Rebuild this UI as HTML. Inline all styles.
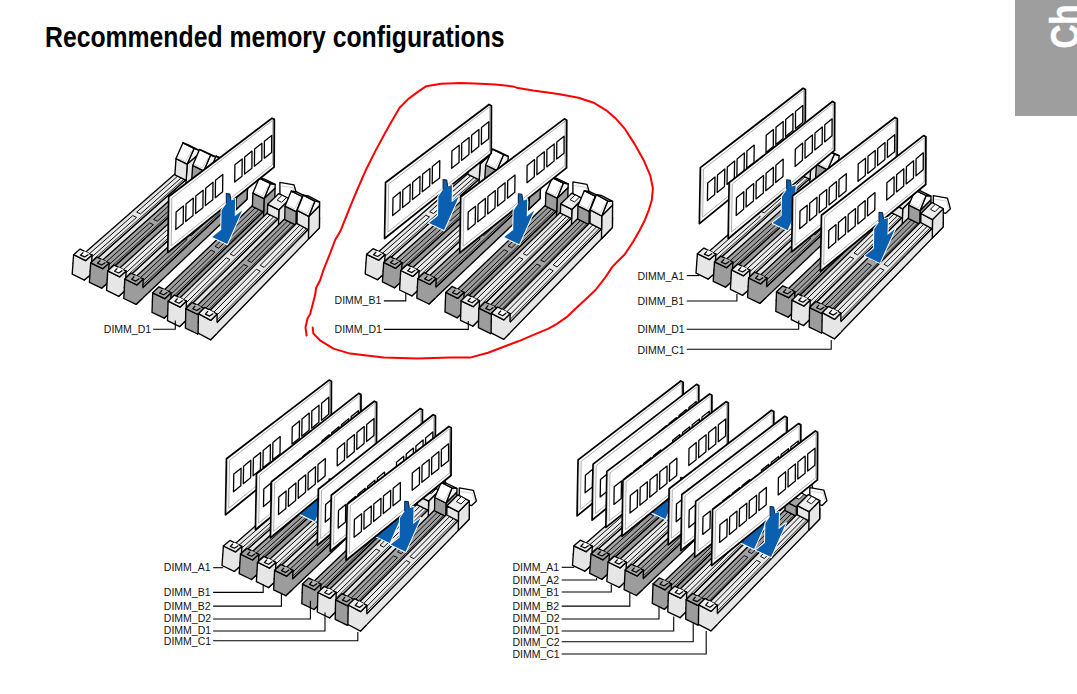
<!DOCTYPE html>
<html><head><meta charset="utf-8"><style>
html,body{margin:0;padding:0;background:#fff;width:1077px;height:694px;overflow:hidden;}
#title{position:absolute;left:44.8px;top:21.0px;font-family:"Liberation Sans",sans-serif;font-weight:bold;font-size:28.8px;white-space:nowrap;transform-origin:0 0;transform:scaleX(0.86);color:#000;}
#tab{position:absolute;left:1015px;top:0;width:62px;height:116px;background:#9e9e9e;overflow:hidden;}
svg{position:absolute;left:0;top:0;}
</style></head><body>
<div id="title">Recommended memory configurations</div>
<div id="tab"></div>
<svg width="1077" height="694" viewBox="0 0 1077 694"><text transform="translate(1078.5,48.6) rotate(-90) scale(0.83,1)" font-family="Liberation Sans, sans-serif" font-weight="bold" font-size="40" fill="#ffffff" stroke="#ffffff" stroke-width="0.5">Ch</text><g transform="translate(0.0,0.0)"><polygon points="84.4,280.1 196.8,179.5 197.5,169.3 85.1,269.1" fill="#e6e6e6" stroke="#000" stroke-width="1.35" stroke-linejoin="round"/><polygon points="73.0,263.2 85.1,269.1 197.5,169.3 186.3,163.9" fill="#e6e6e6" stroke="#000" stroke-width="1.35" stroke-linejoin="round"/><polyline points="89.8,262.6 184.6,178.6" fill="none" stroke="#000" stroke-width="0.76" stroke-linejoin="round"/><polygon points="84.8,257.8 88.6,259.7 136.5,217.4 132.8,215.6" fill="#ececec" stroke="#000" stroke-width="0.95" stroke-linejoin="round"/><polygon points="136.7,212.1 140.5,213.9 181.4,177.7 177.8,176.0" fill="#ececec" stroke="#000" stroke-width="0.95" stroke-linejoin="round"/><polygon points="185.5,189.5 196.8,179.5 198.5,154.2 187.2,164.1" fill="#e6e6e6" stroke="#000" stroke-width="1.35" stroke-linejoin="round"/><polygon points="187.2,164.1 198.5,154.2 198.7,150.1 194.1,148.3 187.2,164.1" fill="#f4f4f4" stroke="#000" stroke-width="1.35" stroke-linejoin="round"/><polygon points="174.9,174.8 186.2,180.3 187.2,164.1 176.0,158.6" fill="#e6e6e6" stroke="#000" stroke-width="1.35" stroke-linejoin="round"/><polygon points="176.0,158.6 187.2,164.1 194.1,148.3 183.0,142.8" fill="#ffffff" stroke="#000" stroke-width="1.35" stroke-linejoin="round"/><polygon points="183.0,142.8 194.1,148.3 198.7,150.1 187.7,144.7" fill="#ffffff" stroke="#000" stroke-width="1.35" stroke-linejoin="round"/><polyline points="177.9,157.5 185.5,161.5 191.7,150.6" fill="none" stroke="#b4b4b4" stroke-width="0.60" stroke-linejoin="round"/><polygon points="72.2,274.2 84.4,280.1 90.8,274.4 92.1,255.0 85.7,260.6 73.6,254.7" fill="#e6e6e6" stroke="none" stroke-width="0.00" stroke-linejoin="round"/><polyline points="91.5,263.4 92.1,255.0 85.7,260.6 73.6,254.7 72.2,274.2 84.4,280.1 90.8,274.4" fill="none" stroke="#000" stroke-width="1.35" stroke-linejoin="round"/><polygon points="73.6,254.7 85.7,260.6 92.1,255.0 80.1,249.1" fill="#eeeeee" stroke="#000" stroke-width="1.35" stroke-linejoin="round"/><polygon points="84.5,251.3 80.5,255.1 84.7,256.9 89.3,253.6" fill="#fafafa" stroke="none" stroke-width="0.00" stroke-linejoin="round"/><polyline points="83.2,252.4 80.5,255.1 84.7,256.9 88.4,254.4" fill="none" stroke="#000" stroke-width="1.22" stroke-linejoin="round"/><polygon points="101.6,288.2 213.5,186.1 214.1,176.0 102.2,277.2" fill="#9c9c9c" stroke="#000" stroke-width="1.35" stroke-linejoin="round"/><polygon points="90.1,271.3 102.2,277.2 214.1,176.0 203.0,170.5" fill="#a2a2a2" stroke="#000" stroke-width="1.35" stroke-linejoin="round"/><polyline points="106.9,270.6 201.4,185.3" fill="none" stroke="#000" stroke-width="0.76" stroke-linejoin="round"/><polygon points="101.9,265.8 105.7,267.7 153.4,224.7 149.7,222.9" fill="#9a9a9a" stroke="#000" stroke-width="0.95" stroke-linejoin="round"/><polygon points="153.6,219.4 157.4,221.2 198.1,184.5 194.5,182.7" fill="#9a9a9a" stroke="#000" stroke-width="0.95" stroke-linejoin="round"/><polygon points="202.4,196.3 213.5,186.1 215.0,160.8 203.8,170.8" fill="#9c9c9c" stroke="#000" stroke-width="1.35" stroke-linejoin="round"/><polygon points="203.8,170.8 215.0,160.8 215.3,156.7 210.6,155.0 203.8,170.8" fill="#f4f4f4" stroke="#000" stroke-width="1.35" stroke-linejoin="round"/><polygon points="191.6,181.5 202.9,187.0 203.8,170.8 192.7,165.4" fill="#9c9c9c" stroke="#000" stroke-width="1.35" stroke-linejoin="round"/><polygon points="192.7,165.4 203.8,170.8 210.6,155.0 199.5,149.5" fill="#ffffff" stroke="#000" stroke-width="1.35" stroke-linejoin="round"/><polygon points="199.5,149.5 210.6,155.0 215.3,156.7 204.2,151.3" fill="#ffffff" stroke="#000" stroke-width="1.35" stroke-linejoin="round"/><polyline points="194.6,164.2 202.1,168.2 208.3,157.3" fill="none" stroke="#b4b4b4" stroke-width="0.60" stroke-linejoin="round"/><polygon points="89.4,282.3 101.6,288.2 108.0,282.4 109.1,263.0 102.7,268.7 90.7,262.8" fill="#9c9c9c" stroke="none" stroke-width="0.00" stroke-linejoin="round"/><polyline points="108.6,271.4 109.1,263.0 102.7,268.7 90.7,262.8 89.4,282.3 101.6,288.2 108.0,282.4" fill="none" stroke="#000" stroke-width="1.35" stroke-linejoin="round"/><polygon points="90.7,262.8 102.7,268.7 109.1,263.0 97.1,257.1" fill="#a4a4a4" stroke="#000" stroke-width="1.35" stroke-linejoin="round"/><polygon points="101.5,259.3 97.5,263.2 101.7,264.9 106.4,261.6" fill="#b0b0b0" stroke="none" stroke-width="0.00" stroke-linejoin="round"/><polyline points="100.3,260.4 97.5,263.2 101.7,264.9 105.4,262.5" fill="none" stroke="#000" stroke-width="1.22" stroke-linejoin="round"/><polygon points="118.8,296.3 230.3,192.7 230.8,182.5 119.4,285.3" fill="#e6e6e6" stroke="#000" stroke-width="1.35" stroke-linejoin="round"/><polygon points="107.2,279.4 119.4,285.3 230.8,182.5 219.7,177.1" fill="#e6e6e6" stroke="#000" stroke-width="1.35" stroke-linejoin="round"/><polyline points="124.0,278.6 218.1,192.1" fill="none" stroke="#000" stroke-width="0.76" stroke-linejoin="round"/><polygon points="118.9,273.8 122.8,275.7 170.3,232.1 166.6,230.3" fill="#ececec" stroke="#000" stroke-width="0.95" stroke-linejoin="round"/><polygon points="170.5,226.7 174.2,228.5 214.8,191.3 211.2,189.5" fill="#ececec" stroke="#000" stroke-width="0.95" stroke-linejoin="round"/><polygon points="219.1,203.0 230.3,192.7 231.6,167.4 220.4,177.6" fill="#e6e6e6" stroke="#000" stroke-width="1.35" stroke-linejoin="round"/><polygon points="220.4,177.6 231.6,167.4 231.8,163.3 227.1,161.7 220.4,177.6" fill="#f4f4f4" stroke="#000" stroke-width="1.35" stroke-linejoin="round"/><polygon points="208.4,188.3 219.6,193.7 220.4,177.6 209.3,172.1" fill="#e6e6e6" stroke="#000" stroke-width="1.35" stroke-linejoin="round"/><polygon points="209.3,172.1 220.4,177.6 227.1,161.7 216.0,156.2" fill="#ffffff" stroke="#000" stroke-width="1.35" stroke-linejoin="round"/><polygon points="216.0,156.2 227.1,161.7 231.8,163.3 220.7,157.9" fill="#ffffff" stroke="#000" stroke-width="1.35" stroke-linejoin="round"/><polyline points="211.1,171.0 218.7,175.0 224.8,164.0" fill="none" stroke="#b4b4b4" stroke-width="0.60" stroke-linejoin="round"/><polygon points="106.6,290.4 118.8,296.3 125.2,290.4 126.1,271.0 119.8,276.8 107.7,270.9" fill="#e6e6e6" stroke="none" stroke-width="0.00" stroke-linejoin="round"/><polyline points="125.7,279.4 126.1,271.0 119.8,276.8 107.7,270.9 106.6,290.4 118.8,296.3 125.2,290.4" fill="none" stroke="#000" stroke-width="1.35" stroke-linejoin="round"/><polygon points="107.7,270.9 119.8,276.8 126.1,271.0 114.1,265.1" fill="#eeeeee" stroke="#000" stroke-width="1.35" stroke-linejoin="round"/><polygon points="118.6,267.3 114.6,271.2 118.8,273.0 123.4,269.6" fill="#fafafa" stroke="none" stroke-width="0.00" stroke-linejoin="round"/><polyline points="117.3,268.4 114.6,271.2 118.8,273.0 122.4,270.5" fill="none" stroke="#000" stroke-width="1.22" stroke-linejoin="round"/><polygon points="136.0,304.4 247.0,199.2 247.5,189.1 136.5,293.4" fill="#9c9c9c" stroke="#000" stroke-width="1.35" stroke-linejoin="round"/><polygon points="124.3,287.5 136.5,293.4 247.5,189.1 236.3,183.7" fill="#a2a2a2" stroke="#000" stroke-width="1.35" stroke-linejoin="round"/><polyline points="141.1,286.6 234.8,198.8" fill="none" stroke="#000" stroke-width="0.76" stroke-linejoin="round"/><polygon points="136.0,281.8 139.9,283.7 187.2,239.4 183.5,237.6" fill="#9a9a9a" stroke="#000" stroke-width="0.95" stroke-linejoin="round"/><polygon points="187.4,234.0 191.1,235.8 231.5,198.0 227.9,196.2" fill="#9a9a9a" stroke="#000" stroke-width="0.95" stroke-linejoin="round"/><polygon points="235.9,209.7 247.0,199.2 248.1,174.0 237.0,184.3" fill="#9c9c9c" stroke="#000" stroke-width="1.35" stroke-linejoin="round"/><polygon points="237.0,184.3 248.1,174.0 248.3,169.9 243.6,168.3 237.0,184.3" fill="#f4f4f4" stroke="#000" stroke-width="1.35" stroke-linejoin="round"/><polygon points="225.1,195.0 236.3,200.5 237.0,184.3 225.9,178.9" fill="#9c9c9c" stroke="#000" stroke-width="1.35" stroke-linejoin="round"/><polygon points="225.9,178.9 237.0,184.3 243.6,168.3 232.5,162.9" fill="#ffffff" stroke="#000" stroke-width="1.35" stroke-linejoin="round"/><polygon points="232.5,162.9 243.6,168.3 248.3,169.9 237.2,164.5" fill="#ffffff" stroke="#000" stroke-width="1.35" stroke-linejoin="round"/><polyline points="227.7,177.7 235.3,181.7 241.3,170.7" fill="none" stroke="#b4b4b4" stroke-width="0.60" stroke-linejoin="round"/><polygon points="123.8,298.5 136.0,304.4 142.3,298.4 143.2,279.0 136.8,284.9 124.8,279.0" fill="#9c9c9c" stroke="none" stroke-width="0.00" stroke-linejoin="round"/><polyline points="142.8,287.5 143.2,279.0 136.8,284.9 124.8,279.0 123.8,298.5 136.0,304.4 142.3,298.4" fill="none" stroke="#000" stroke-width="1.35" stroke-linejoin="round"/><polygon points="124.8,279.0 136.8,284.9 143.2,279.0 131.1,273.1" fill="#a4a4a4" stroke="#000" stroke-width="1.35" stroke-linejoin="round"/><polygon points="135.6,275.3 131.6,279.3 135.8,281.1 140.4,277.6" fill="#b0b0b0" stroke="none" stroke-width="0.00" stroke-linejoin="round"/><polyline points="134.3,276.5 131.6,279.3 135.8,281.1 139.4,278.5" fill="none" stroke="#000" stroke-width="1.22" stroke-linejoin="round"/><polygon points="164.2,318.2 274.4,210.5 274.7,200.4 164.5,307.2" fill="#9c9c9c" stroke="#000" stroke-width="1.35" stroke-linejoin="round"/><polygon points="152.4,301.3 164.5,307.2 274.7,200.4 263.6,195.0" fill="#a2a2a2" stroke="#000" stroke-width="1.35" stroke-linejoin="round"/><polyline points="169.1,300.3 262.1,210.3" fill="none" stroke="#000" stroke-width="0.76" stroke-linejoin="round"/><polygon points="164.0,295.4 167.9,297.3 214.9,252.0 211.1,250.1" fill="#9a9a9a" stroke="#000" stroke-width="0.95" stroke-linejoin="round"/><polygon points="215.0,246.4 218.7,248.2 258.9,209.5 255.3,207.8" fill="#9a9a9a" stroke="#000" stroke-width="0.95" stroke-linejoin="round"/><polygon points="263.4,221.2 274.4,210.5 275.1,188.0 264.1,198.6" fill="#9c9c9c" stroke="#000" stroke-width="1.35" stroke-linejoin="round"/><polygon points="264.1,198.6 275.1,188.0 275.2,184.3 270.4,183.5 264.1,198.6" fill="#f4f4f4" stroke="#000" stroke-width="1.35" stroke-linejoin="round"/><polygon points="252.4,206.5 263.7,212.0 264.1,198.6 252.9,193.1" fill="#9c9c9c" stroke="#000" stroke-width="1.35" stroke-linejoin="round"/><polygon points="252.9,193.1 264.1,198.6 270.4,183.5 259.3,178.1" fill="#ffffff" stroke="#000" stroke-width="1.35" stroke-linejoin="round"/><polygon points="259.3,178.1 270.4,183.5 275.2,184.3 264.1,178.9" fill="#ffffff" stroke="#000" stroke-width="1.35" stroke-linejoin="round"/><polyline points="254.7,192.0 262.3,195.9 268.1,185.9" fill="none" stroke="#b4b4b4" stroke-width="0.60" stroke-linejoin="round"/><polygon points="152.0,312.3 164.2,318.2 170.5,312.1 171.1,292.7 164.8,298.7 152.7,292.8" fill="#9c9c9c" stroke="none" stroke-width="0.00" stroke-linejoin="round"/><polyline points="170.8,301.1 171.1,292.7 164.8,298.7 152.7,292.8 152.0,312.3 164.2,318.2 170.5,312.1" fill="none" stroke="#000" stroke-width="1.35" stroke-linejoin="round"/><polygon points="152.7,292.8 164.8,298.7 171.1,292.7 159.0,286.8" fill="#a4a4a4" stroke="#000" stroke-width="1.35" stroke-linejoin="round"/><polygon points="163.5,289.0 159.6,293.1 163.7,294.8 168.3,291.3" fill="#b0b0b0" stroke="none" stroke-width="0.00" stroke-linejoin="round"/><polyline points="162.2,290.2 159.6,293.1 163.7,294.8 167.4,292.2" fill="none" stroke="#000" stroke-width="1.22" stroke-linejoin="round"/><polygon points="179.7,326.6 289.4,217.4 289.6,207.3 180.0,315.6" fill="#e6e6e6" stroke="#000" stroke-width="1.35" stroke-linejoin="round"/><polygon points="167.8,309.7 180.0,315.6 289.6,207.3 278.5,201.9" fill="#e6e6e6" stroke="#000" stroke-width="1.35" stroke-linejoin="round"/><polyline points="184.5,308.6 277.1,217.4" fill="none" stroke="#000" stroke-width="0.76" stroke-linejoin="round"/><polygon points="179.4,303.7 183.3,305.6 230.0,259.6 226.3,257.8" fill="#ececec" stroke="#000" stroke-width="0.95" stroke-linejoin="round"/><polygon points="230.2,254.0 233.9,255.8 273.9,216.6 270.3,214.8" fill="#ececec" stroke="#000" stroke-width="0.95" stroke-linejoin="round"/><polygon points="279.9,182.3 294.0,184.8 297.0,195.4 292.3,200.0 279.9,196.9" fill="#ffffff" stroke="#000" stroke-width="1.35" stroke-linejoin="round"/><polyline points="280.7,185.8 293.2,187.8 295.2,194.9" fill="none" stroke="#b4b4b4" stroke-width="0.60" stroke-linejoin="round"/><polygon points="278.4,228.3 289.4,217.4 289.8,199.0 278.9,209.8" fill="#e6e6e6" stroke="#000" stroke-width="1.35" stroke-linejoin="round"/><polygon points="267.4,213.6 278.6,219.0 278.9,209.8 267.7,204.3" fill="#e6e6e6" stroke="#000" stroke-width="1.35" stroke-linejoin="round"/><polygon points="267.7,204.3 278.9,209.8 289.8,199.0 278.8,193.6" fill="#eeeeee" stroke="#000" stroke-width="1.35" stroke-linejoin="round"/><polygon points="282.1,195.3 277.1,200.1 281.6,202.3 286.5,197.4" fill="#ffffff" stroke="#000" stroke-width="0.95" stroke-linejoin="round"/><polygon points="167.5,320.7 179.7,326.6 186.0,320.4 186.4,301.0 180.2,307.1 168.1,301.2" fill="#e6e6e6" stroke="none" stroke-width="0.00" stroke-linejoin="round"/><polyline points="186.2,309.4 186.4,301.0 180.2,307.1 168.1,301.2 167.5,320.7 179.7,326.6 186.0,320.4" fill="none" stroke="#000" stroke-width="1.35" stroke-linejoin="round"/><polygon points="168.1,301.2 180.2,307.1 186.4,301.0 174.4,295.1" fill="#eeeeee" stroke="#000" stroke-width="1.35" stroke-linejoin="round"/><polygon points="178.8,297.3 174.9,301.4 179.1,303.2 183.6,299.6" fill="#fafafa" stroke="none" stroke-width="0.00" stroke-linejoin="round"/><polyline points="177.6,298.5 174.9,301.4 179.1,303.2 182.7,300.5" fill="none" stroke="#000" stroke-width="1.22" stroke-linejoin="round"/><polygon points="197.6,334.0 306.7,223.2 306.9,213.2 197.8,323.0" fill="#9c9c9c" stroke="#000" stroke-width="1.35" stroke-linejoin="round"/><polygon points="185.6,317.1 197.8,323.0 306.9,213.2 295.8,207.8" fill="#a2a2a2" stroke="#000" stroke-width="1.35" stroke-linejoin="round"/><polyline points="202.3,315.9 294.4,223.4" fill="none" stroke="#000" stroke-width="0.76" stroke-linejoin="round"/><polygon points="197.2,311.0 201.0,312.9 247.6,266.3 243.9,264.5" fill="#9a9a9a" stroke="#000" stroke-width="0.95" stroke-linejoin="round"/><polygon points="247.7,260.6 251.4,262.4 291.2,222.6 287.6,220.9" fill="#9a9a9a" stroke="#000" stroke-width="0.95" stroke-linejoin="round"/><polygon points="295.8,234.3 306.7,223.2 307.1,200.8 296.2,211.7" fill="#9c9c9c" stroke="#000" stroke-width="1.35" stroke-linejoin="round"/><polygon points="296.2,211.7 307.1,200.8 307.1,197.1 302.3,196.5 296.2,211.7" fill="#f4f4f4" stroke="#000" stroke-width="1.35" stroke-linejoin="round"/><polygon points="284.7,219.6 296.0,225.1 296.2,211.7 285.0,206.2" fill="#9c9c9c" stroke="#000" stroke-width="1.35" stroke-linejoin="round"/><polygon points="285.0,206.2 296.2,211.7 302.3,196.5 291.3,191.1" fill="#ffffff" stroke="#000" stroke-width="1.35" stroke-linejoin="round"/><polygon points="291.3,191.1 302.3,196.5 307.1,197.1 296.1,191.7" fill="#ffffff" stroke="#000" stroke-width="1.35" stroke-linejoin="round"/><polyline points="286.8,205.0 294.4,209.0 300.1,198.9" fill="none" stroke="#b4b4b4" stroke-width="0.60" stroke-linejoin="round"/><polygon points="185.4,328.1 197.6,334.0 203.8,327.7 204.1,308.3 197.9,314.5 185.8,308.6" fill="#9c9c9c" stroke="none" stroke-width="0.00" stroke-linejoin="round"/><polyline points="204.0,316.7 204.1,308.3 197.9,314.5 185.8,308.6 185.4,328.1 197.6,334.0 203.8,327.7" fill="none" stroke="#000" stroke-width="1.35" stroke-linejoin="round"/><polygon points="185.8,308.6 197.9,314.5 204.1,308.3 192.1,302.4" fill="#a4a4a4" stroke="#000" stroke-width="1.35" stroke-linejoin="round"/><polygon points="196.5,304.6 192.7,308.8 196.8,310.5 201.4,306.9" fill="#b0b0b0" stroke="none" stroke-width="0.00" stroke-linejoin="round"/><polyline points="195.3,305.8 192.7,308.8 196.8,310.5 200.4,307.9" fill="none" stroke="#000" stroke-width="1.22" stroke-linejoin="round"/><polygon points="210.7,339.8 319.4,227.9 319.5,217.8 210.8,328.8" fill="#e6e6e6" stroke="#000" stroke-width="1.35" stroke-linejoin="round"/><polygon points="198.3,322.2 210.8,328.8 319.5,217.8 308.0,211.8" fill="#e6e6e6" stroke="#000" stroke-width="1.35" stroke-linejoin="round"/><polyline points="215.3,321.6 307.0,228.1" fill="none" stroke="#000" stroke-width="0.76" stroke-linejoin="round"/><polygon points="209.9,316.2 213.9,318.3 260.2,271.2 256.4,269.2" fill="#ececec" stroke="#000" stroke-width="0.95" stroke-linejoin="round"/><polygon points="260.2,265.3 264.1,267.4 303.6,227.2 299.9,225.2" fill="#ececec" stroke="#000" stroke-width="0.95" stroke-linejoin="round"/><polygon points="308.5,239.1 319.4,227.9 319.6,205.5 308.7,216.4" fill="#e6e6e6" stroke="#000" stroke-width="1.35" stroke-linejoin="round"/><polygon points="308.7,216.4 319.6,205.5 319.6,201.8 314.8,201.2 308.7,216.4" fill="#f4f4f4" stroke="#000" stroke-width="1.35" stroke-linejoin="round"/><polygon points="297.0,223.7 308.6,229.8 308.7,216.4 297.2,210.3" fill="#e6e6e6" stroke="#000" stroke-width="1.35" stroke-linejoin="round"/><polygon points="297.2,210.3 308.7,216.4 314.8,201.2 303.4,195.1" fill="#ffffff" stroke="#000" stroke-width="1.35" stroke-linejoin="round"/><polygon points="303.4,195.1 314.8,201.2 319.6,201.8 308.2,195.8" fill="#ffffff" stroke="#000" stroke-width="1.35" stroke-linejoin="round"/><polyline points="299.0,209.3 306.9,213.7 312.5,203.5" fill="none" stroke="#b4b4b4" stroke-width="0.60" stroke-linejoin="round"/><polygon points="198.1,333.2 210.7,339.8 216.9,333.4 217.1,314.0 210.9,320.3 198.4,313.7" fill="#e6e6e6" stroke="none" stroke-width="0.00" stroke-linejoin="round"/><polyline points="217.0,322.5 217.1,314.0 210.9,320.3 198.4,313.7 198.1,333.2 210.7,339.8 216.9,333.4" fill="none" stroke="#000" stroke-width="1.35" stroke-linejoin="round"/><polygon points="198.4,313.7 210.9,320.3 217.1,314.0 204.7,307.4" fill="#eeeeee" stroke="#000" stroke-width="1.35" stroke-linejoin="round"/><polygon points="209.3,309.9 205.4,314.1 209.7,316.1 214.2,312.5" fill="#fafafa" stroke="none" stroke-width="0.00" stroke-linejoin="round"/><polyline points="208.0,311.1 205.4,314.1 209.7,316.1 213.3,313.4" fill="none" stroke="#000" stroke-width="1.22" stroke-linejoin="round"/><polygon points="168.8,196.5 272.0,118.2 274.3,119.4 274.1,167.1 167.8,252.5" fill="#ffffff" stroke="#000" stroke-width="1.80" stroke-linejoin="round"/><polygon points="171.9,198.0 272.7,120.4 272.5,164.8 171.1,246.0" fill="none" stroke="#8c8c8c" stroke-width="0.70" stroke-linejoin="round"/><polyline points="170.0,196.7 169.1,250.6" fill="none" stroke="#c8c8c8" stroke-width="0.60" stroke-linejoin="round"/><polygon points="176.1,211.9 183.4,206.0 183.2,223.6 175.8,229.5" fill="#ffffff" stroke="#000" stroke-width="1.30" stroke-linejoin="round"/><polygon points="186.0,204.0 193.3,198.1 193.0,215.6 185.7,221.5" fill="#ffffff" stroke="#000" stroke-width="1.30" stroke-linejoin="round"/><polygon points="195.8,196.1 203.1,190.2 202.9,207.7 195.6,213.6" fill="#ffffff" stroke="#000" stroke-width="1.30" stroke-linejoin="round"/><polygon points="205.7,188.2 213.0,182.3 212.8,199.7 205.4,205.6" fill="#ffffff" stroke="#000" stroke-width="1.30" stroke-linejoin="round"/><polygon points="215.5,180.3 222.8,174.5 222.6,191.8 215.3,197.7" fill="#ffffff" stroke="#000" stroke-width="1.30" stroke-linejoin="round"/><polygon points="234.9,164.8 242.2,159.0 242.0,176.2 234.7,182.1" fill="#ffffff" stroke="#000" stroke-width="1.30" stroke-linejoin="round"/><polygon points="244.7,157.0 252.0,151.1 251.9,168.3 244.6,174.1" fill="#ffffff" stroke="#000" stroke-width="1.30" stroke-linejoin="round"/><polygon points="254.6,149.1 261.9,143.3 261.8,160.3 254.4,166.2" fill="#ffffff" stroke="#000" stroke-width="1.30" stroke-linejoin="round"/><polygon points="264.4,141.2 271.7,135.4 271.6,152.4 264.3,158.3" fill="#ffffff" stroke="#000" stroke-width="1.30" stroke-linejoin="round"/><polygon points="226.3,193.6 229.9,194.1 230.9,200.6 235.2,199.1 234.8,216.3 242.2,210.2 227.2,244.1 212.2,236.9 221.2,229.7 221.6,210.3 226.3,203.4" fill="#0a5fb0" stroke="#ffffff" stroke-width="2.00" stroke-linejoin="round"/><polygon points="226.3,193.6 229.9,194.1 230.9,200.6 235.2,199.1 234.8,216.3 242.2,210.2 227.2,244.1 212.2,236.9 221.2,229.7 221.6,210.3 226.3,203.4" fill="#0a5fb0" stroke="none" stroke-width="0.00" stroke-linejoin="round"/><polyline points="226.3,203.4 226.3,193.6 229.9,194.1 230.9,200.6" fill="none" stroke="#0d2a4d" stroke-width="1.10" stroke-linejoin="round"/></g><g transform="translate(293.0,-0.4)"><polygon points="84.4,280.1 196.8,179.5 197.5,169.3 85.1,269.1" fill="#e6e6e6" stroke="#000" stroke-width="1.35" stroke-linejoin="round"/><polygon points="73.0,263.2 85.1,269.1 197.5,169.3 186.3,163.9" fill="#e6e6e6" stroke="#000" stroke-width="1.35" stroke-linejoin="round"/><polyline points="89.8,262.6 184.6,178.6" fill="none" stroke="#000" stroke-width="0.76" stroke-linejoin="round"/><polygon points="84.8,257.8 88.6,259.7 136.5,217.4 132.8,215.6" fill="#ececec" stroke="#000" stroke-width="0.95" stroke-linejoin="round"/><polygon points="136.7,212.1 140.5,213.9 181.4,177.7 177.8,176.0" fill="#ececec" stroke="#000" stroke-width="0.95" stroke-linejoin="round"/><polygon points="185.5,189.5 196.8,179.5 198.5,154.2 187.2,164.1" fill="#e6e6e6" stroke="#000" stroke-width="1.35" stroke-linejoin="round"/><polygon points="187.2,164.1 198.5,154.2 198.7,150.1 194.1,148.3 187.2,164.1" fill="#f4f4f4" stroke="#000" stroke-width="1.35" stroke-linejoin="round"/><polygon points="174.9,174.8 186.2,180.3 187.2,164.1 176.0,158.6" fill="#e6e6e6" stroke="#000" stroke-width="1.35" stroke-linejoin="round"/><polygon points="176.0,158.6 187.2,164.1 194.1,148.3 183.0,142.8" fill="#ffffff" stroke="#000" stroke-width="1.35" stroke-linejoin="round"/><polygon points="183.0,142.8 194.1,148.3 198.7,150.1 187.7,144.7" fill="#ffffff" stroke="#000" stroke-width="1.35" stroke-linejoin="round"/><polyline points="177.9,157.5 185.5,161.5 191.7,150.6" fill="none" stroke="#b4b4b4" stroke-width="0.60" stroke-linejoin="round"/><polygon points="72.2,274.2 84.4,280.1 90.8,274.4 92.1,255.0 85.7,260.6 73.6,254.7" fill="#e6e6e6" stroke="none" stroke-width="0.00" stroke-linejoin="round"/><polyline points="91.5,263.4 92.1,255.0 85.7,260.6 73.6,254.7 72.2,274.2 84.4,280.1 90.8,274.4" fill="none" stroke="#000" stroke-width="1.35" stroke-linejoin="round"/><polygon points="73.6,254.7 85.7,260.6 92.1,255.0 80.1,249.1" fill="#eeeeee" stroke="#000" stroke-width="1.35" stroke-linejoin="round"/><polygon points="84.5,251.3 80.5,255.1 84.7,256.9 89.3,253.6" fill="#fafafa" stroke="none" stroke-width="0.00" stroke-linejoin="round"/><polyline points="83.2,252.4 80.5,255.1 84.7,256.9 88.4,254.4" fill="none" stroke="#000" stroke-width="1.22" stroke-linejoin="round"/><polygon points="101.6,288.2 213.5,186.1 214.1,176.0 102.2,277.2" fill="#9c9c9c" stroke="#000" stroke-width="1.35" stroke-linejoin="round"/><polygon points="90.1,271.3 102.2,277.2 214.1,176.0 203.0,170.5" fill="#a2a2a2" stroke="#000" stroke-width="1.35" stroke-linejoin="round"/><polyline points="106.9,270.6 201.4,185.3" fill="none" stroke="#000" stroke-width="0.76" stroke-linejoin="round"/><polygon points="101.9,265.8 105.7,267.7 153.4,224.7 149.7,222.9" fill="#9a9a9a" stroke="#000" stroke-width="0.95" stroke-linejoin="round"/><polygon points="153.6,219.4 157.4,221.2 198.1,184.5 194.5,182.7" fill="#9a9a9a" stroke="#000" stroke-width="0.95" stroke-linejoin="round"/><polygon points="202.4,196.3 213.5,186.1 215.0,160.8 203.8,170.8" fill="#9c9c9c" stroke="#000" stroke-width="1.35" stroke-linejoin="round"/><polygon points="203.8,170.8 215.0,160.8 215.3,156.7 210.6,155.0 203.8,170.8" fill="#f4f4f4" stroke="#000" stroke-width="1.35" stroke-linejoin="round"/><polygon points="191.6,181.5 202.9,187.0 203.8,170.8 192.7,165.4" fill="#9c9c9c" stroke="#000" stroke-width="1.35" stroke-linejoin="round"/><polygon points="192.7,165.4 203.8,170.8 210.6,155.0 199.5,149.5" fill="#ffffff" stroke="#000" stroke-width="1.35" stroke-linejoin="round"/><polygon points="199.5,149.5 210.6,155.0 215.3,156.7 204.2,151.3" fill="#ffffff" stroke="#000" stroke-width="1.35" stroke-linejoin="round"/><polyline points="194.6,164.2 202.1,168.2 208.3,157.3" fill="none" stroke="#b4b4b4" stroke-width="0.60" stroke-linejoin="round"/><polygon points="89.4,282.3 101.6,288.2 108.0,282.4 109.1,263.0 102.7,268.7 90.7,262.8" fill="#9c9c9c" stroke="none" stroke-width="0.00" stroke-linejoin="round"/><polyline points="108.6,271.4 109.1,263.0 102.7,268.7 90.7,262.8 89.4,282.3 101.6,288.2 108.0,282.4" fill="none" stroke="#000" stroke-width="1.35" stroke-linejoin="round"/><polygon points="90.7,262.8 102.7,268.7 109.1,263.0 97.1,257.1" fill="#a4a4a4" stroke="#000" stroke-width="1.35" stroke-linejoin="round"/><polygon points="101.5,259.3 97.5,263.2 101.7,264.9 106.4,261.6" fill="#b0b0b0" stroke="none" stroke-width="0.00" stroke-linejoin="round"/><polyline points="100.3,260.4 97.5,263.2 101.7,264.9 105.4,262.5" fill="none" stroke="#000" stroke-width="1.22" stroke-linejoin="round"/><polygon points="118.8,296.3 230.3,192.7 230.8,182.5 119.4,285.3" fill="#e6e6e6" stroke="#000" stroke-width="1.35" stroke-linejoin="round"/><polygon points="107.2,279.4 119.4,285.3 230.8,182.5 219.7,177.1" fill="#e6e6e6" stroke="#000" stroke-width="1.35" stroke-linejoin="round"/><polyline points="124.0,278.6 218.1,192.1" fill="none" stroke="#000" stroke-width="0.76" stroke-linejoin="round"/><polygon points="118.9,273.8 122.8,275.7 170.3,232.1 166.6,230.3" fill="#ececec" stroke="#000" stroke-width="0.95" stroke-linejoin="round"/><polygon points="170.5,226.7 174.2,228.5 214.8,191.3 211.2,189.5" fill="#ececec" stroke="#000" stroke-width="0.95" stroke-linejoin="round"/><polygon points="220.8,157.0 234.9,159.8 237.9,171.7 233.2,176.8 220.8,173.4" fill="#ffffff" stroke="#000" stroke-width="1.35" stroke-linejoin="round"/><polyline points="221.6,160.5 234.1,162.8 236.1,171.2" fill="none" stroke="#b4b4b4" stroke-width="0.60" stroke-linejoin="round"/><polygon points="219.1,203.0 230.3,192.7 231.3,172.1 220.2,182.3" fill="#e6e6e6" stroke="#000" stroke-width="1.35" stroke-linejoin="round"/><polygon points="208.4,188.3 219.6,193.7 220.2,182.3 209.0,176.8" fill="#e6e6e6" stroke="#000" stroke-width="1.35" stroke-linejoin="round"/><polygon points="209.0,176.8 220.2,182.3 231.3,172.1 220.2,166.6" fill="#eeeeee" stroke="#000" stroke-width="1.35" stroke-linejoin="round"/><polygon points="223.6,168.3 218.5,172.8 223.0,175.0 228.0,170.4" fill="#ffffff" stroke="#000" stroke-width="0.95" stroke-linejoin="round"/><polygon points="106.6,290.4 118.8,296.3 125.2,290.4 126.1,271.0 119.8,276.8 107.7,270.9" fill="#e6e6e6" stroke="none" stroke-width="0.00" stroke-linejoin="round"/><polyline points="125.7,279.4 126.1,271.0 119.8,276.8 107.7,270.9 106.6,290.4 118.8,296.3 125.2,290.4" fill="none" stroke="#000" stroke-width="1.35" stroke-linejoin="round"/><polygon points="107.7,270.9 119.8,276.8 126.1,271.0 114.1,265.1" fill="#eeeeee" stroke="#000" stroke-width="1.35" stroke-linejoin="round"/><polygon points="118.6,267.3 114.6,271.2 118.8,273.0 123.4,269.6" fill="#fafafa" stroke="none" stroke-width="0.00" stroke-linejoin="round"/><polyline points="117.3,268.4 114.6,271.2 118.8,273.0 122.4,270.5" fill="none" stroke="#000" stroke-width="1.22" stroke-linejoin="round"/><polygon points="136.0,304.4 247.0,199.2 247.5,189.1 136.5,293.4" fill="#9c9c9c" stroke="#000" stroke-width="1.35" stroke-linejoin="round"/><polygon points="124.3,287.5 136.5,293.4 247.5,189.1 236.3,183.7" fill="#a2a2a2" stroke="#000" stroke-width="1.35" stroke-linejoin="round"/><polyline points="141.1,286.6 234.8,198.8" fill="none" stroke="#000" stroke-width="0.76" stroke-linejoin="round"/><polygon points="136.0,281.8 139.9,283.7 187.2,239.4 183.5,237.6" fill="#9a9a9a" stroke="#000" stroke-width="0.95" stroke-linejoin="round"/><polygon points="187.4,234.0 191.1,235.8 231.5,198.0 227.9,196.2" fill="#9a9a9a" stroke="#000" stroke-width="0.95" stroke-linejoin="round"/><polygon points="235.9,209.7 247.0,199.2 248.1,174.0 237.0,184.3" fill="#9c9c9c" stroke="#000" stroke-width="1.35" stroke-linejoin="round"/><polygon points="237.0,184.3 248.1,174.0 248.3,169.9 243.6,168.3 237.0,184.3" fill="#f4f4f4" stroke="#000" stroke-width="1.35" stroke-linejoin="round"/><polygon points="225.1,195.0 236.3,200.5 237.0,184.3 225.9,178.9" fill="#9c9c9c" stroke="#000" stroke-width="1.35" stroke-linejoin="round"/><polygon points="225.9,178.9 237.0,184.3 243.6,168.3 232.5,162.9" fill="#ffffff" stroke="#000" stroke-width="1.35" stroke-linejoin="round"/><polygon points="232.5,162.9 243.6,168.3 248.3,169.9 237.2,164.5" fill="#ffffff" stroke="#000" stroke-width="1.35" stroke-linejoin="round"/><polyline points="227.7,177.7 235.3,181.7 241.3,170.7" fill="none" stroke="#b4b4b4" stroke-width="0.60" stroke-linejoin="round"/><polygon points="123.8,298.5 136.0,304.4 142.3,298.4 143.2,279.0 136.8,284.9 124.8,279.0" fill="#9c9c9c" stroke="none" stroke-width="0.00" stroke-linejoin="round"/><polyline points="142.8,287.5 143.2,279.0 136.8,284.9 124.8,279.0 123.8,298.5 136.0,304.4 142.3,298.4" fill="none" stroke="#000" stroke-width="1.35" stroke-linejoin="round"/><polygon points="124.8,279.0 136.8,284.9 143.2,279.0 131.1,273.1" fill="#a4a4a4" stroke="#000" stroke-width="1.35" stroke-linejoin="round"/><polygon points="135.6,275.3 131.6,279.3 135.8,281.1 140.4,277.6" fill="#b0b0b0" stroke="none" stroke-width="0.00" stroke-linejoin="round"/><polyline points="134.3,276.5 131.6,279.3 135.8,281.1 139.4,278.5" fill="none" stroke="#000" stroke-width="1.22" stroke-linejoin="round"/><polygon points="164.2,318.2 274.4,210.5 274.7,200.4 164.5,307.2" fill="#9c9c9c" stroke="#000" stroke-width="1.35" stroke-linejoin="round"/><polygon points="152.4,301.3 164.5,307.2 274.7,200.4 263.6,195.0" fill="#a2a2a2" stroke="#000" stroke-width="1.35" stroke-linejoin="round"/><polyline points="169.1,300.3 262.1,210.3" fill="none" stroke="#000" stroke-width="0.76" stroke-linejoin="round"/><polygon points="164.0,295.4 167.9,297.3 214.9,252.0 211.1,250.1" fill="#9a9a9a" stroke="#000" stroke-width="0.95" stroke-linejoin="round"/><polygon points="215.0,246.4 218.7,248.2 258.9,209.5 255.3,207.8" fill="#9a9a9a" stroke="#000" stroke-width="0.95" stroke-linejoin="round"/><polygon points="263.4,221.2 274.4,210.5 275.1,188.0 264.1,198.6" fill="#9c9c9c" stroke="#000" stroke-width="1.35" stroke-linejoin="round"/><polygon points="264.1,198.6 275.1,188.0 275.2,184.3 270.4,183.5 264.1,198.6" fill="#f4f4f4" stroke="#000" stroke-width="1.35" stroke-linejoin="round"/><polygon points="252.4,206.5 263.7,212.0 264.1,198.6 252.9,193.1" fill="#9c9c9c" stroke="#000" stroke-width="1.35" stroke-linejoin="round"/><polygon points="252.9,193.1 264.1,198.6 270.4,183.5 259.3,178.1" fill="#ffffff" stroke="#000" stroke-width="1.35" stroke-linejoin="round"/><polygon points="259.3,178.1 270.4,183.5 275.2,184.3 264.1,178.9" fill="#ffffff" stroke="#000" stroke-width="1.35" stroke-linejoin="round"/><polyline points="254.7,192.0 262.3,195.9 268.1,185.9" fill="none" stroke="#b4b4b4" stroke-width="0.60" stroke-linejoin="round"/><polygon points="152.0,312.3 164.2,318.2 170.5,312.1 171.1,292.7 164.8,298.7 152.7,292.8" fill="#9c9c9c" stroke="none" stroke-width="0.00" stroke-linejoin="round"/><polyline points="170.8,301.1 171.1,292.7 164.8,298.7 152.7,292.8 152.0,312.3 164.2,318.2 170.5,312.1" fill="none" stroke="#000" stroke-width="1.35" stroke-linejoin="round"/><polygon points="152.7,292.8 164.8,298.7 171.1,292.7 159.0,286.8" fill="#a4a4a4" stroke="#000" stroke-width="1.35" stroke-linejoin="round"/><polygon points="163.5,289.0 159.6,293.1 163.7,294.8 168.3,291.3" fill="#b0b0b0" stroke="none" stroke-width="0.00" stroke-linejoin="round"/><polyline points="162.2,290.2 159.6,293.1 163.7,294.8 167.4,292.2" fill="none" stroke="#000" stroke-width="1.22" stroke-linejoin="round"/><polygon points="179.7,326.6 289.4,217.4 289.6,207.3 180.0,315.6" fill="#e6e6e6" stroke="#000" stroke-width="1.35" stroke-linejoin="round"/><polygon points="167.8,309.7 180.0,315.6 289.6,207.3 278.5,201.9" fill="#e6e6e6" stroke="#000" stroke-width="1.35" stroke-linejoin="round"/><polyline points="184.5,308.6 277.1,217.4" fill="none" stroke="#000" stroke-width="0.76" stroke-linejoin="round"/><polygon points="179.4,303.7 183.3,305.6 230.0,259.6 226.3,257.8" fill="#ececec" stroke="#000" stroke-width="0.95" stroke-linejoin="round"/><polygon points="230.2,254.0 233.9,255.8 273.9,216.6 270.3,214.8" fill="#ececec" stroke="#000" stroke-width="0.95" stroke-linejoin="round"/><polygon points="279.9,182.3 294.0,184.8 297.0,195.4 292.3,200.0 279.9,196.9" fill="#ffffff" stroke="#000" stroke-width="1.35" stroke-linejoin="round"/><polyline points="280.7,185.8 293.2,187.8 295.2,194.9" fill="none" stroke="#b4b4b4" stroke-width="0.60" stroke-linejoin="round"/><polygon points="278.4,228.3 289.4,217.4 289.8,199.0 278.9,209.8" fill="#e6e6e6" stroke="#000" stroke-width="1.35" stroke-linejoin="round"/><polygon points="267.4,213.6 278.6,219.0 278.9,209.8 267.7,204.3" fill="#e6e6e6" stroke="#000" stroke-width="1.35" stroke-linejoin="round"/><polygon points="267.7,204.3 278.9,209.8 289.8,199.0 278.8,193.6" fill="#eeeeee" stroke="#000" stroke-width="1.35" stroke-linejoin="round"/><polygon points="282.1,195.3 277.1,200.1 281.6,202.3 286.5,197.4" fill="#ffffff" stroke="#000" stroke-width="0.95" stroke-linejoin="round"/><polygon points="167.5,320.7 179.7,326.6 186.0,320.4 186.4,301.0 180.2,307.1 168.1,301.2" fill="#e6e6e6" stroke="none" stroke-width="0.00" stroke-linejoin="round"/><polyline points="186.2,309.4 186.4,301.0 180.2,307.1 168.1,301.2 167.5,320.7 179.7,326.6 186.0,320.4" fill="none" stroke="#000" stroke-width="1.35" stroke-linejoin="round"/><polygon points="168.1,301.2 180.2,307.1 186.4,301.0 174.4,295.1" fill="#eeeeee" stroke="#000" stroke-width="1.35" stroke-linejoin="round"/><polygon points="178.8,297.3 174.9,301.4 179.1,303.2 183.6,299.6" fill="#fafafa" stroke="none" stroke-width="0.00" stroke-linejoin="round"/><polyline points="177.6,298.5 174.9,301.4 179.1,303.2 182.7,300.5" fill="none" stroke="#000" stroke-width="1.22" stroke-linejoin="round"/><polygon points="197.6,334.0 306.7,223.2 306.9,213.2 197.8,323.0" fill="#9c9c9c" stroke="#000" stroke-width="1.35" stroke-linejoin="round"/><polygon points="185.6,317.1 197.8,323.0 306.9,213.2 295.8,207.8" fill="#a2a2a2" stroke="#000" stroke-width="1.35" stroke-linejoin="round"/><polyline points="202.3,315.9 294.4,223.4" fill="none" stroke="#000" stroke-width="0.76" stroke-linejoin="round"/><polygon points="197.2,311.0 201.0,312.9 247.6,266.3 243.9,264.5" fill="#9a9a9a" stroke="#000" stroke-width="0.95" stroke-linejoin="round"/><polygon points="247.7,260.6 251.4,262.4 291.2,222.6 287.6,220.9" fill="#9a9a9a" stroke="#000" stroke-width="0.95" stroke-linejoin="round"/><polygon points="295.8,234.3 306.7,223.2 307.1,200.8 296.2,211.7" fill="#9c9c9c" stroke="#000" stroke-width="1.35" stroke-linejoin="round"/><polygon points="296.2,211.7 307.1,200.8 307.1,197.1 302.3,196.5 296.2,211.7" fill="#f4f4f4" stroke="#000" stroke-width="1.35" stroke-linejoin="round"/><polygon points="284.7,219.6 296.0,225.1 296.2,211.7 285.0,206.2" fill="#9c9c9c" stroke="#000" stroke-width="1.35" stroke-linejoin="round"/><polygon points="285.0,206.2 296.2,211.7 302.3,196.5 291.3,191.1" fill="#ffffff" stroke="#000" stroke-width="1.35" stroke-linejoin="round"/><polygon points="291.3,191.1 302.3,196.5 307.1,197.1 296.1,191.7" fill="#ffffff" stroke="#000" stroke-width="1.35" stroke-linejoin="round"/><polyline points="286.8,205.0 294.4,209.0 300.1,198.9" fill="none" stroke="#b4b4b4" stroke-width="0.60" stroke-linejoin="round"/><polygon points="185.4,328.1 197.6,334.0 203.8,327.7 204.1,308.3 197.9,314.5 185.8,308.6" fill="#9c9c9c" stroke="none" stroke-width="0.00" stroke-linejoin="round"/><polyline points="204.0,316.7 204.1,308.3 197.9,314.5 185.8,308.6 185.4,328.1 197.6,334.0 203.8,327.7" fill="none" stroke="#000" stroke-width="1.35" stroke-linejoin="round"/><polygon points="185.8,308.6 197.9,314.5 204.1,308.3 192.1,302.4" fill="#a4a4a4" stroke="#000" stroke-width="1.35" stroke-linejoin="round"/><polygon points="196.5,304.6 192.7,308.8 196.8,310.5 201.4,306.9" fill="#b0b0b0" stroke="none" stroke-width="0.00" stroke-linejoin="round"/><polyline points="195.3,305.8 192.7,308.8 196.8,310.5 200.4,307.9" fill="none" stroke="#000" stroke-width="1.22" stroke-linejoin="round"/><polygon points="210.7,339.8 319.4,227.9 319.5,217.8 210.8,328.8" fill="#e6e6e6" stroke="#000" stroke-width="1.35" stroke-linejoin="round"/><polygon points="198.3,322.2 210.8,328.8 319.5,217.8 308.0,211.8" fill="#e6e6e6" stroke="#000" stroke-width="1.35" stroke-linejoin="round"/><polyline points="215.3,321.6 307.0,228.1" fill="none" stroke="#000" stroke-width="0.76" stroke-linejoin="round"/><polygon points="209.9,316.2 213.9,318.3 260.2,271.2 256.4,269.2" fill="#ececec" stroke="#000" stroke-width="0.95" stroke-linejoin="round"/><polygon points="260.2,265.3 264.1,267.4 303.6,227.2 299.9,225.2" fill="#ececec" stroke="#000" stroke-width="0.95" stroke-linejoin="round"/><polygon points="308.5,239.1 319.4,227.9 319.6,205.5 308.7,216.4" fill="#e6e6e6" stroke="#000" stroke-width="1.35" stroke-linejoin="round"/><polygon points="308.7,216.4 319.6,205.5 319.6,201.8 314.8,201.2 308.7,216.4" fill="#f4f4f4" stroke="#000" stroke-width="1.35" stroke-linejoin="round"/><polygon points="297.0,223.7 308.6,229.8 308.7,216.4 297.2,210.3" fill="#e6e6e6" stroke="#000" stroke-width="1.35" stroke-linejoin="round"/><polygon points="297.2,210.3 308.7,216.4 314.8,201.2 303.4,195.1" fill="#ffffff" stroke="#000" stroke-width="1.35" stroke-linejoin="round"/><polygon points="303.4,195.1 314.8,201.2 319.6,201.8 308.2,195.8" fill="#ffffff" stroke="#000" stroke-width="1.35" stroke-linejoin="round"/><polyline points="299.0,209.3 306.9,213.7 312.5,203.5" fill="none" stroke="#b4b4b4" stroke-width="0.60" stroke-linejoin="round"/><polygon points="198.1,333.2 210.7,339.8 216.9,333.4 217.1,314.0 210.9,320.3 198.4,313.7" fill="#e6e6e6" stroke="none" stroke-width="0.00" stroke-linejoin="round"/><polyline points="217.0,322.5 217.1,314.0 210.9,320.3 198.4,313.7 198.1,333.2 210.7,339.8 216.9,333.4" fill="none" stroke="#000" stroke-width="1.35" stroke-linejoin="round"/><polygon points="198.4,313.7 210.9,320.3 217.1,314.0 204.7,307.4" fill="#eeeeee" stroke="#000" stroke-width="1.35" stroke-linejoin="round"/><polygon points="209.3,309.9 205.4,314.1 209.7,316.1 214.2,312.5" fill="#fafafa" stroke="none" stroke-width="0.00" stroke-linejoin="round"/><polyline points="208.0,311.1 205.4,314.1 209.7,316.1 213.3,313.4" fill="none" stroke="#000" stroke-width="1.22" stroke-linejoin="round"/><polygon points="92.6,182.9 196.1,104.9 198.4,106.1 198.2,153.8 91.6,238.9" fill="#ffffff" stroke="#000" stroke-width="1.80" stroke-linejoin="round"/><polygon points="95.7,184.4 196.8,107.1 196.6,151.5 94.9,232.4" fill="none" stroke="#8c8c8c" stroke-width="0.70" stroke-linejoin="round"/><polyline points="93.8,183.1 92.9,237.0" fill="none" stroke="#c8c8c8" stroke-width="0.60" stroke-linejoin="round"/><polygon points="100.0,198.3 107.3,192.4 107.0,210.0 99.7,215.9" fill="#ffffff" stroke="#000" stroke-width="1.30" stroke-linejoin="round"/><polygon points="109.8,190.4 117.2,184.6 116.9,202.1 109.6,208.0" fill="#ffffff" stroke="#000" stroke-width="1.30" stroke-linejoin="round"/><polygon points="119.7,182.6 127.0,176.7 126.8,194.2 119.5,200.0" fill="#ffffff" stroke="#000" stroke-width="1.30" stroke-linejoin="round"/><polygon points="129.6,174.7 136.9,168.9 136.7,186.3 129.3,192.1" fill="#ffffff" stroke="#000" stroke-width="1.30" stroke-linejoin="round"/><polygon points="139.4,166.8 146.8,161.0 146.6,178.4 139.2,184.2" fill="#ffffff" stroke="#000" stroke-width="1.30" stroke-linejoin="round"/><polygon points="158.9,151.4 166.2,145.6 166.0,162.8 158.7,168.7" fill="#ffffff" stroke="#000" stroke-width="1.30" stroke-linejoin="round"/><polygon points="168.7,143.6 176.1,137.8 175.9,154.9 168.6,160.8" fill="#ffffff" stroke="#000" stroke-width="1.30" stroke-linejoin="round"/><polygon points="178.6,135.7 185.9,129.9 185.8,147.0 178.5,152.9" fill="#ffffff" stroke="#000" stroke-width="1.30" stroke-linejoin="round"/><polygon points="188.5,127.9 195.8,122.1 195.7,139.1 188.4,145.0" fill="#ffffff" stroke="#000" stroke-width="1.30" stroke-linejoin="round"/><polygon points="150.1,180.0 153.7,180.5 154.7,187.0 159.0,185.5 158.6,202.7 166.0,196.6 151.0,230.5 136.0,223.3 145.0,216.1 145.4,196.7 150.1,189.8" fill="#0a5fb0" stroke="#ffffff" stroke-width="2.00" stroke-linejoin="round"/><polygon points="150.1,180.0 153.7,180.5 154.7,187.0 159.0,185.5 158.6,202.7 166.0,196.6 151.0,230.5 136.0,223.3 145.0,216.1 145.4,196.7 150.1,189.8" fill="#0a5fb0" stroke="none" stroke-width="0.00" stroke-linejoin="round"/><polyline points="150.1,189.8 150.1,180.0 153.7,180.5 154.7,187.0" fill="none" stroke="#0d2a4d" stroke-width="1.10" stroke-linejoin="round"/><polygon points="167.8,197.1 271.4,119.3 273.7,120.6 273.5,168.3 166.8,253.1" fill="#ffffff" stroke="#000" stroke-width="1.80" stroke-linejoin="round"/><polygon points="170.9,198.6 272.1,121.6 271.9,166.0 170.1,246.6" fill="none" stroke="#8c8c8c" stroke-width="0.70" stroke-linejoin="round"/><polyline points="169.1,197.3 168.1,251.2" fill="none" stroke="#c8c8c8" stroke-width="0.60" stroke-linejoin="round"/><polygon points="175.2,212.5 182.5,206.7 182.2,224.2 174.9,230.1" fill="#ffffff" stroke="#000" stroke-width="1.30" stroke-linejoin="round"/><polygon points="185.1,204.7 192.4,198.9 192.1,216.4 184.8,222.2" fill="#ffffff" stroke="#000" stroke-width="1.30" stroke-linejoin="round"/><polygon points="194.9,196.8 202.3,191.0 202.0,208.5 194.7,214.3" fill="#ffffff" stroke="#000" stroke-width="1.30" stroke-linejoin="round"/><polygon points="204.8,189.0 212.1,183.2 211.9,200.6 204.6,206.4" fill="#ffffff" stroke="#000" stroke-width="1.30" stroke-linejoin="round"/><polygon points="214.7,181.2 222.0,175.4 221.8,192.7 214.5,198.6" fill="#ffffff" stroke="#000" stroke-width="1.30" stroke-linejoin="round"/><polygon points="234.1,165.8 241.5,160.0 241.3,177.2 234.0,183.1" fill="#ffffff" stroke="#000" stroke-width="1.30" stroke-linejoin="round"/><polygon points="244.0,158.0 251.3,152.2 251.2,169.3 243.9,175.2" fill="#ffffff" stroke="#000" stroke-width="1.30" stroke-linejoin="round"/><polygon points="253.9,150.2 261.2,144.4 261.1,161.5 253.8,167.3" fill="#ffffff" stroke="#000" stroke-width="1.30" stroke-linejoin="round"/><polygon points="263.8,142.4 271.1,136.6 271.0,153.6 263.7,159.4" fill="#ffffff" stroke="#000" stroke-width="1.30" stroke-linejoin="round"/><polygon points="225.3,194.2 228.9,194.7 229.9,201.2 234.2,199.7 233.8,216.9 241.2,210.8 226.2,244.7 211.2,237.5 220.2,230.3 220.6,210.9 225.3,204.0" fill="#0a5fb0" stroke="#ffffff" stroke-width="2.00" stroke-linejoin="round"/><polygon points="225.3,194.2 228.9,194.7 229.9,201.2 234.2,199.7 233.8,216.9 241.2,210.8 226.2,244.7 211.2,237.5 220.2,230.3 220.6,210.9 225.3,204.0" fill="#0a5fb0" stroke="none" stroke-width="0.00" stroke-linejoin="round"/><polyline points="225.3,204.0 225.3,194.2 228.9,194.7 229.9,201.2" fill="none" stroke="#0d2a4d" stroke-width="1.10" stroke-linejoin="round"/></g><g transform="translate(623.8,-1.0)"><polygon points="84.4,280.1 196.8,179.5 197.5,169.3 85.1,269.1" fill="#e6e6e6" stroke="#000" stroke-width="1.35" stroke-linejoin="round"/><polygon points="73.0,263.2 85.1,269.1 197.5,169.3 186.3,163.9" fill="#e6e6e6" stroke="#000" stroke-width="1.35" stroke-linejoin="round"/><polyline points="89.8,262.6 184.6,178.6" fill="none" stroke="#000" stroke-width="0.76" stroke-linejoin="round"/><polygon points="84.8,257.8 88.6,259.7 136.5,217.4 132.8,215.6" fill="#ececec" stroke="#000" stroke-width="0.95" stroke-linejoin="round"/><polygon points="136.7,212.1 140.5,213.9 181.4,177.7 177.8,176.0" fill="#ececec" stroke="#000" stroke-width="0.95" stroke-linejoin="round"/><polygon points="187.3,143.8 201.4,146.6 204.4,158.5 199.7,163.6 187.3,160.2" fill="#ffffff" stroke="#000" stroke-width="1.35" stroke-linejoin="round"/><polyline points="188.1,147.3 200.6,149.6 202.6,158.0" fill="none" stroke="#b4b4b4" stroke-width="0.60" stroke-linejoin="round"/><polygon points="185.5,189.5 196.8,179.5 198.2,158.9 186.9,168.7" fill="#e6e6e6" stroke="#000" stroke-width="1.35" stroke-linejoin="round"/><polygon points="174.9,174.8 186.2,180.3 186.9,168.7 175.7,163.3" fill="#e6e6e6" stroke="#000" stroke-width="1.35" stroke-linejoin="round"/><polygon points="175.7,163.3 186.9,168.7 198.2,158.9 187.0,153.4" fill="#eeeeee" stroke="#000" stroke-width="1.35" stroke-linejoin="round"/><polygon points="190.4,155.1 185.3,159.5 189.8,161.7 194.8,157.2" fill="#ffffff" stroke="#000" stroke-width="0.95" stroke-linejoin="round"/><polygon points="72.2,274.2 84.4,280.1 90.8,274.4 92.1,255.0 85.7,260.6 73.6,254.7" fill="#e6e6e6" stroke="none" stroke-width="0.00" stroke-linejoin="round"/><polyline points="91.5,263.4 92.1,255.0 85.7,260.6 73.6,254.7 72.2,274.2 84.4,280.1 90.8,274.4" fill="none" stroke="#000" stroke-width="1.35" stroke-linejoin="round"/><polygon points="73.6,254.7 85.7,260.6 92.1,255.0 80.1,249.1" fill="#eeeeee" stroke="#000" stroke-width="1.35" stroke-linejoin="round"/><polygon points="84.5,251.3 80.5,255.1 84.7,256.9 89.3,253.6" fill="#fafafa" stroke="none" stroke-width="0.00" stroke-linejoin="round"/><polyline points="83.2,252.4 80.5,255.1 84.7,256.9 88.4,254.4" fill="none" stroke="#000" stroke-width="1.22" stroke-linejoin="round"/><polygon points="101.6,288.2 213.5,186.1 214.1,176.0 102.2,277.2" fill="#9c9c9c" stroke="#000" stroke-width="1.35" stroke-linejoin="round"/><polygon points="90.1,271.3 102.2,277.2 214.1,176.0 203.0,170.5" fill="#a2a2a2" stroke="#000" stroke-width="1.35" stroke-linejoin="round"/><polyline points="106.9,270.6 201.4,185.3" fill="none" stroke="#000" stroke-width="0.76" stroke-linejoin="round"/><polygon points="101.9,265.8 105.7,267.7 153.4,224.7 149.7,222.9" fill="#9a9a9a" stroke="#000" stroke-width="0.95" stroke-linejoin="round"/><polygon points="153.6,219.4 157.4,221.2 198.1,184.5 194.5,182.7" fill="#9a9a9a" stroke="#000" stroke-width="0.95" stroke-linejoin="round"/><polygon points="202.4,196.3 213.5,186.1 215.0,160.8 203.8,170.8" fill="#9c9c9c" stroke="#000" stroke-width="1.35" stroke-linejoin="round"/><polygon points="203.8,170.8 215.0,160.8 215.3,156.7 210.6,155.0 203.8,170.8" fill="#f4f4f4" stroke="#000" stroke-width="1.35" stroke-linejoin="round"/><polygon points="191.6,181.5 202.9,187.0 203.8,170.8 192.7,165.4" fill="#9c9c9c" stroke="#000" stroke-width="1.35" stroke-linejoin="round"/><polygon points="192.7,165.4 203.8,170.8 210.6,155.0 199.5,149.5" fill="#ffffff" stroke="#000" stroke-width="1.35" stroke-linejoin="round"/><polygon points="199.5,149.5 210.6,155.0 215.3,156.7 204.2,151.3" fill="#ffffff" stroke="#000" stroke-width="1.35" stroke-linejoin="round"/><polyline points="194.6,164.2 202.1,168.2 208.3,157.3" fill="none" stroke="#b4b4b4" stroke-width="0.60" stroke-linejoin="round"/><polygon points="89.4,282.3 101.6,288.2 108.0,282.4 109.1,263.0 102.7,268.7 90.7,262.8" fill="#9c9c9c" stroke="none" stroke-width="0.00" stroke-linejoin="round"/><polyline points="108.6,271.4 109.1,263.0 102.7,268.7 90.7,262.8 89.4,282.3 101.6,288.2 108.0,282.4" fill="none" stroke="#000" stroke-width="1.35" stroke-linejoin="round"/><polygon points="90.7,262.8 102.7,268.7 109.1,263.0 97.1,257.1" fill="#a4a4a4" stroke="#000" stroke-width="1.35" stroke-linejoin="round"/><polygon points="101.5,259.3 97.5,263.2 101.7,264.9 106.4,261.6" fill="#b0b0b0" stroke="none" stroke-width="0.00" stroke-linejoin="round"/><polyline points="100.3,260.4 97.5,263.2 101.7,264.9 105.4,262.5" fill="none" stroke="#000" stroke-width="1.22" stroke-linejoin="round"/><polygon points="118.8,296.3 230.3,192.7 230.8,182.5 119.4,285.3" fill="#e6e6e6" stroke="#000" stroke-width="1.35" stroke-linejoin="round"/><polygon points="107.2,279.4 119.4,285.3 230.8,182.5 219.7,177.1" fill="#e6e6e6" stroke="#000" stroke-width="1.35" stroke-linejoin="round"/><polyline points="124.0,278.6 218.1,192.1" fill="none" stroke="#000" stroke-width="0.76" stroke-linejoin="round"/><polygon points="118.9,273.8 122.8,275.7 170.3,232.1 166.6,230.3" fill="#ececec" stroke="#000" stroke-width="0.95" stroke-linejoin="round"/><polygon points="170.5,226.7 174.2,228.5 214.8,191.3 211.2,189.5" fill="#ececec" stroke="#000" stroke-width="0.95" stroke-linejoin="round"/><polygon points="220.8,157.0 234.9,159.8 237.9,171.7 233.2,176.8 220.8,173.4" fill="#ffffff" stroke="#000" stroke-width="1.35" stroke-linejoin="round"/><polyline points="221.6,160.5 234.1,162.8 236.1,171.2" fill="none" stroke="#b4b4b4" stroke-width="0.60" stroke-linejoin="round"/><polygon points="219.1,203.0 230.3,192.7 231.3,172.1 220.2,182.3" fill="#e6e6e6" stroke="#000" stroke-width="1.35" stroke-linejoin="round"/><polygon points="208.4,188.3 219.6,193.7 220.2,182.3 209.0,176.8" fill="#e6e6e6" stroke="#000" stroke-width="1.35" stroke-linejoin="round"/><polygon points="209.0,176.8 220.2,182.3 231.3,172.1 220.2,166.6" fill="#eeeeee" stroke="#000" stroke-width="1.35" stroke-linejoin="round"/><polygon points="223.6,168.3 218.5,172.8 223.0,175.0 228.0,170.4" fill="#ffffff" stroke="#000" stroke-width="0.95" stroke-linejoin="round"/><polygon points="106.6,290.4 118.8,296.3 125.2,290.4 126.1,271.0 119.8,276.8 107.7,270.9" fill="#e6e6e6" stroke="none" stroke-width="0.00" stroke-linejoin="round"/><polyline points="125.7,279.4 126.1,271.0 119.8,276.8 107.7,270.9 106.6,290.4 118.8,296.3 125.2,290.4" fill="none" stroke="#000" stroke-width="1.35" stroke-linejoin="round"/><polygon points="107.7,270.9 119.8,276.8 126.1,271.0 114.1,265.1" fill="#eeeeee" stroke="#000" stroke-width="1.35" stroke-linejoin="round"/><polygon points="118.6,267.3 114.6,271.2 118.8,273.0 123.4,269.6" fill="#fafafa" stroke="none" stroke-width="0.00" stroke-linejoin="round"/><polyline points="117.3,268.4 114.6,271.2 118.8,273.0 122.4,270.5" fill="none" stroke="#000" stroke-width="1.22" stroke-linejoin="round"/><polygon points="136.0,304.4 247.0,199.2 247.5,189.1 136.5,293.4" fill="#9c9c9c" stroke="#000" stroke-width="1.35" stroke-linejoin="round"/><polygon points="124.3,287.5 136.5,293.4 247.5,189.1 236.3,183.7" fill="#a2a2a2" stroke="#000" stroke-width="1.35" stroke-linejoin="round"/><polyline points="141.1,286.6 234.8,198.8" fill="none" stroke="#000" stroke-width="0.76" stroke-linejoin="round"/><polygon points="136.0,281.8 139.9,283.7 187.2,239.4 183.5,237.6" fill="#9a9a9a" stroke="#000" stroke-width="0.95" stroke-linejoin="round"/><polygon points="187.4,234.0 191.1,235.8 231.5,198.0 227.9,196.2" fill="#9a9a9a" stroke="#000" stroke-width="0.95" stroke-linejoin="round"/><polygon points="235.9,209.7 247.0,199.2 248.1,174.0 237.0,184.3" fill="#9c9c9c" stroke="#000" stroke-width="1.35" stroke-linejoin="round"/><polygon points="237.0,184.3 248.1,174.0 248.3,169.9 243.6,168.3 237.0,184.3" fill="#f4f4f4" stroke="#000" stroke-width="1.35" stroke-linejoin="round"/><polygon points="225.1,195.0 236.3,200.5 237.0,184.3 225.9,178.9" fill="#9c9c9c" stroke="#000" stroke-width="1.35" stroke-linejoin="round"/><polygon points="225.9,178.9 237.0,184.3 243.6,168.3 232.5,162.9" fill="#ffffff" stroke="#000" stroke-width="1.35" stroke-linejoin="round"/><polygon points="232.5,162.9 243.6,168.3 248.3,169.9 237.2,164.5" fill="#ffffff" stroke="#000" stroke-width="1.35" stroke-linejoin="round"/><polyline points="227.7,177.7 235.3,181.7 241.3,170.7" fill="none" stroke="#b4b4b4" stroke-width="0.60" stroke-linejoin="round"/><polygon points="123.8,298.5 136.0,304.4 142.3,298.4 143.2,279.0 136.8,284.9 124.8,279.0" fill="#9c9c9c" stroke="none" stroke-width="0.00" stroke-linejoin="round"/><polyline points="142.8,287.5 143.2,279.0 136.8,284.9 124.8,279.0 123.8,298.5 136.0,304.4 142.3,298.4" fill="none" stroke="#000" stroke-width="1.35" stroke-linejoin="round"/><polygon points="124.8,279.0 136.8,284.9 143.2,279.0 131.1,273.1" fill="#a4a4a4" stroke="#000" stroke-width="1.35" stroke-linejoin="round"/><polygon points="135.6,275.3 131.6,279.3 135.8,281.1 140.4,277.6" fill="#b0b0b0" stroke="none" stroke-width="0.00" stroke-linejoin="round"/><polyline points="134.3,276.5 131.6,279.3 135.8,281.1 139.4,278.5" fill="none" stroke="#000" stroke-width="1.22" stroke-linejoin="round"/><polygon points="164.2,318.2 274.4,210.5 274.7,200.4 164.5,307.2" fill="#9c9c9c" stroke="#000" stroke-width="1.35" stroke-linejoin="round"/><polygon points="152.4,301.3 164.5,307.2 274.7,200.4 263.6,195.0" fill="#a2a2a2" stroke="#000" stroke-width="1.35" stroke-linejoin="round"/><polyline points="169.1,300.3 262.1,210.3" fill="none" stroke="#000" stroke-width="0.76" stroke-linejoin="round"/><polygon points="164.0,295.4 167.9,297.3 214.9,252.0 211.1,250.1" fill="#9a9a9a" stroke="#000" stroke-width="0.95" stroke-linejoin="round"/><polygon points="215.0,246.4 218.7,248.2 258.9,209.5 255.3,207.8" fill="#9a9a9a" stroke="#000" stroke-width="0.95" stroke-linejoin="round"/><polygon points="263.4,221.2 274.4,210.5 275.1,188.0 264.1,198.6" fill="#9c9c9c" stroke="#000" stroke-width="1.35" stroke-linejoin="round"/><polygon points="264.1,198.6 275.1,188.0 275.2,184.3 270.4,183.5 264.1,198.6" fill="#f4f4f4" stroke="#000" stroke-width="1.35" stroke-linejoin="round"/><polygon points="252.4,206.5 263.7,212.0 264.1,198.6 252.9,193.1" fill="#9c9c9c" stroke="#000" stroke-width="1.35" stroke-linejoin="round"/><polygon points="252.9,193.1 264.1,198.6 270.4,183.5 259.3,178.1" fill="#ffffff" stroke="#000" stroke-width="1.35" stroke-linejoin="round"/><polygon points="259.3,178.1 270.4,183.5 275.2,184.3 264.1,178.9" fill="#ffffff" stroke="#000" stroke-width="1.35" stroke-linejoin="round"/><polyline points="254.7,192.0 262.3,195.9 268.1,185.9" fill="none" stroke="#b4b4b4" stroke-width="0.60" stroke-linejoin="round"/><polygon points="152.0,312.3 164.2,318.2 170.5,312.1 171.1,292.7 164.8,298.7 152.7,292.8" fill="#9c9c9c" stroke="none" stroke-width="0.00" stroke-linejoin="round"/><polyline points="170.8,301.1 171.1,292.7 164.8,298.7 152.7,292.8 152.0,312.3 164.2,318.2 170.5,312.1" fill="none" stroke="#000" stroke-width="1.35" stroke-linejoin="round"/><polygon points="152.7,292.8 164.8,298.7 171.1,292.7 159.0,286.8" fill="#a4a4a4" stroke="#000" stroke-width="1.35" stroke-linejoin="round"/><polygon points="163.5,289.0 159.6,293.1 163.7,294.8 168.3,291.3" fill="#b0b0b0" stroke="none" stroke-width="0.00" stroke-linejoin="round"/><polyline points="162.2,290.2 159.6,293.1 163.7,294.8 167.4,292.2" fill="none" stroke="#000" stroke-width="1.22" stroke-linejoin="round"/><polygon points="179.7,326.6 289.4,217.4 289.6,207.3 180.0,315.6" fill="#e6e6e6" stroke="#000" stroke-width="1.35" stroke-linejoin="round"/><polygon points="167.8,309.7 180.0,315.6 289.6,207.3 278.5,201.9" fill="#e6e6e6" stroke="#000" stroke-width="1.35" stroke-linejoin="round"/><polyline points="184.5,308.6 277.1,217.4" fill="none" stroke="#000" stroke-width="0.76" stroke-linejoin="round"/><polygon points="179.4,303.7 183.3,305.6 230.0,259.6 226.3,257.8" fill="#ececec" stroke="#000" stroke-width="0.95" stroke-linejoin="round"/><polygon points="230.2,254.0 233.9,255.8 273.9,216.6 270.3,214.8" fill="#ececec" stroke="#000" stroke-width="0.95" stroke-linejoin="round"/><polygon points="279.9,182.3 294.0,184.8 297.0,195.4 292.3,200.0 279.9,196.9" fill="#ffffff" stroke="#000" stroke-width="1.35" stroke-linejoin="round"/><polyline points="280.7,185.8 293.2,187.8 295.2,194.9" fill="none" stroke="#b4b4b4" stroke-width="0.60" stroke-linejoin="round"/><polygon points="278.4,228.3 289.4,217.4 289.8,199.0 278.9,209.8" fill="#e6e6e6" stroke="#000" stroke-width="1.35" stroke-linejoin="round"/><polygon points="267.4,213.6 278.6,219.0 278.9,209.8 267.7,204.3" fill="#e6e6e6" stroke="#000" stroke-width="1.35" stroke-linejoin="round"/><polygon points="267.7,204.3 278.9,209.8 289.8,199.0 278.8,193.6" fill="#eeeeee" stroke="#000" stroke-width="1.35" stroke-linejoin="round"/><polygon points="282.1,195.3 277.1,200.1 281.6,202.3 286.5,197.4" fill="#ffffff" stroke="#000" stroke-width="0.95" stroke-linejoin="round"/><polygon points="167.5,320.7 179.7,326.6 186.0,320.4 186.4,301.0 180.2,307.1 168.1,301.2" fill="#e6e6e6" stroke="none" stroke-width="0.00" stroke-linejoin="round"/><polyline points="186.2,309.4 186.4,301.0 180.2,307.1 168.1,301.2 167.5,320.7 179.7,326.6 186.0,320.4" fill="none" stroke="#000" stroke-width="1.35" stroke-linejoin="round"/><polygon points="168.1,301.2 180.2,307.1 186.4,301.0 174.4,295.1" fill="#eeeeee" stroke="#000" stroke-width="1.35" stroke-linejoin="round"/><polygon points="178.8,297.3 174.9,301.4 179.1,303.2 183.6,299.6" fill="#fafafa" stroke="none" stroke-width="0.00" stroke-linejoin="round"/><polyline points="177.6,298.5 174.9,301.4 179.1,303.2 182.7,300.5" fill="none" stroke="#000" stroke-width="1.22" stroke-linejoin="round"/><polygon points="197.6,334.0 306.7,223.2 306.9,213.2 197.8,323.0" fill="#9c9c9c" stroke="#000" stroke-width="1.35" stroke-linejoin="round"/><polygon points="185.6,317.1 197.8,323.0 306.9,213.2 295.8,207.8" fill="#a2a2a2" stroke="#000" stroke-width="1.35" stroke-linejoin="round"/><polyline points="202.3,315.9 294.4,223.4" fill="none" stroke="#000" stroke-width="0.76" stroke-linejoin="round"/><polygon points="197.2,311.0 201.0,312.9 247.6,266.3 243.9,264.5" fill="#9a9a9a" stroke="#000" stroke-width="0.95" stroke-linejoin="round"/><polygon points="247.7,260.6 251.4,262.4 291.2,222.6 287.6,220.9" fill="#9a9a9a" stroke="#000" stroke-width="0.95" stroke-linejoin="round"/><polygon points="295.8,234.3 306.7,223.2 307.1,200.8 296.2,211.7" fill="#9c9c9c" stroke="#000" stroke-width="1.35" stroke-linejoin="round"/><polygon points="296.2,211.7 307.1,200.8 307.1,197.1 302.3,196.5 296.2,211.7" fill="#f4f4f4" stroke="#000" stroke-width="1.35" stroke-linejoin="round"/><polygon points="284.7,219.6 296.0,225.1 296.2,211.7 285.0,206.2" fill="#9c9c9c" stroke="#000" stroke-width="1.35" stroke-linejoin="round"/><polygon points="285.0,206.2 296.2,211.7 302.3,196.5 291.3,191.1" fill="#ffffff" stroke="#000" stroke-width="1.35" stroke-linejoin="round"/><polygon points="291.3,191.1 302.3,196.5 307.1,197.1 296.1,191.7" fill="#ffffff" stroke="#000" stroke-width="1.35" stroke-linejoin="round"/><polyline points="286.8,205.0 294.4,209.0 300.1,198.9" fill="none" stroke="#b4b4b4" stroke-width="0.60" stroke-linejoin="round"/><polygon points="185.4,328.1 197.6,334.0 203.8,327.7 204.1,308.3 197.9,314.5 185.8,308.6" fill="#9c9c9c" stroke="none" stroke-width="0.00" stroke-linejoin="round"/><polyline points="204.0,316.7 204.1,308.3 197.9,314.5 185.8,308.6 185.4,328.1 197.6,334.0 203.8,327.7" fill="none" stroke="#000" stroke-width="1.35" stroke-linejoin="round"/><polygon points="185.8,308.6 197.9,314.5 204.1,308.3 192.1,302.4" fill="#a4a4a4" stroke="#000" stroke-width="1.35" stroke-linejoin="round"/><polygon points="196.5,304.6 192.7,308.8 196.8,310.5 201.4,306.9" fill="#b0b0b0" stroke="none" stroke-width="0.00" stroke-linejoin="round"/><polyline points="195.3,305.8 192.7,308.8 196.8,310.5 200.4,307.9" fill="none" stroke="#000" stroke-width="1.22" stroke-linejoin="round"/><polygon points="210.7,339.8 319.4,227.9 319.5,217.8 210.8,328.8" fill="#e6e6e6" stroke="#000" stroke-width="1.35" stroke-linejoin="round"/><polygon points="198.3,322.2 210.8,328.8 319.5,217.8 308.0,211.8" fill="#e6e6e6" stroke="#000" stroke-width="1.35" stroke-linejoin="round"/><polyline points="215.3,321.6 307.0,228.1" fill="none" stroke="#000" stroke-width="0.76" stroke-linejoin="round"/><polygon points="209.9,316.2 213.9,318.3 260.2,271.2 256.4,269.2" fill="#ececec" stroke="#000" stroke-width="0.95" stroke-linejoin="round"/><polygon points="260.2,265.3 264.1,267.4 303.6,227.2 299.9,225.2" fill="#ececec" stroke="#000" stroke-width="0.95" stroke-linejoin="round"/><polygon points="309.5,196.6 323.6,199.1 326.6,209.7 321.9,214.3 309.5,211.2" fill="#ffffff" stroke="#000" stroke-width="1.35" stroke-linejoin="round"/><polyline points="310.3,200.1 322.8,202.1 324.8,209.2" fill="none" stroke="#b4b4b4" stroke-width="0.60" stroke-linejoin="round"/><polygon points="308.5,239.1 319.4,227.9 319.5,209.6 308.7,220.6" fill="#e6e6e6" stroke="#000" stroke-width="1.35" stroke-linejoin="round"/><polygon points="297.0,223.7 308.6,229.8 308.7,220.6 297.1,214.5" fill="#e6e6e6" stroke="#000" stroke-width="1.35" stroke-linejoin="round"/><polygon points="297.1,214.5 308.7,220.6 319.5,209.6 308.1,203.5" fill="#eeeeee" stroke="#000" stroke-width="1.35" stroke-linejoin="round"/><polygon points="311.5,205.3 306.6,210.3 311.2,212.7 316.1,207.8" fill="#ffffff" stroke="#000" stroke-width="0.95" stroke-linejoin="round"/><polygon points="198.1,333.2 210.7,339.8 216.9,333.4 217.1,314.0 210.9,320.3 198.4,313.7" fill="#e6e6e6" stroke="none" stroke-width="0.00" stroke-linejoin="round"/><polyline points="217.0,322.5 217.1,314.0 210.9,320.3 198.4,313.7 198.1,333.2 210.7,339.8 216.9,333.4" fill="none" stroke="#000" stroke-width="1.35" stroke-linejoin="round"/><polygon points="198.4,313.7 210.9,320.3 217.1,314.0 204.7,307.4" fill="#eeeeee" stroke="#000" stroke-width="1.35" stroke-linejoin="round"/><polygon points="209.3,309.9 205.4,314.1 209.7,316.1 214.2,312.5" fill="#fafafa" stroke="none" stroke-width="0.00" stroke-linejoin="round"/><polyline points="208.0,311.1 205.4,314.1 209.7,316.1 213.3,313.4" fill="none" stroke="#000" stroke-width="1.22" stroke-linejoin="round"/><polygon points="76.6,168.6 179.3,89.3 181.6,90.5 181.4,138.2 75.6,224.6" fill="#ffffff" stroke="#000" stroke-width="1.80" stroke-linejoin="round"/><polygon points="79.7,170.1 180.0,91.5 179.8,135.9 78.8,218.1" fill="none" stroke="#8c8c8c" stroke-width="0.70" stroke-linejoin="round"/><polyline points="77.8,168.7 76.9,222.7" fill="none" stroke="#c8c8c8" stroke-width="0.60" stroke-linejoin="round"/><polygon points="83.9,183.9 91.2,178.0 90.9,195.5 83.6,201.5" fill="#ffffff" stroke="#000" stroke-width="1.30" stroke-linejoin="round"/><polygon points="93.7,175.9 101.0,170.0 100.7,187.5 93.4,193.4" fill="#ffffff" stroke="#000" stroke-width="1.30" stroke-linejoin="round"/><polygon points="103.5,167.9 110.8,162.0 110.5,179.4 103.2,185.4" fill="#ffffff" stroke="#000" stroke-width="1.30" stroke-linejoin="round"/><polygon points="113.3,159.9 120.6,154.0 120.3,171.4 113.1,177.4" fill="#ffffff" stroke="#000" stroke-width="1.30" stroke-linejoin="round"/><polygon points="123.1,152.0 130.4,146.1 130.2,163.4 122.9,169.3" fill="#ffffff" stroke="#000" stroke-width="1.30" stroke-linejoin="round"/><polygon points="142.4,136.3 149.6,130.4 149.5,147.6 142.2,153.5" fill="#ffffff" stroke="#000" stroke-width="1.30" stroke-linejoin="round"/><polygon points="152.2,128.3 159.4,122.4 159.3,139.6 152.0,145.5" fill="#ffffff" stroke="#000" stroke-width="1.30" stroke-linejoin="round"/><polygon points="161.9,120.4 169.2,114.5 169.1,131.6 161.8,137.5" fill="#ffffff" stroke="#000" stroke-width="1.30" stroke-linejoin="round"/><polygon points="171.7,112.4 179.0,106.5 178.9,123.5 171.7,129.5" fill="#ffffff" stroke="#000" stroke-width="1.30" stroke-linejoin="round"/><polygon points="134.1,165.7 137.7,166.2 138.7,172.7 143.0,171.2 142.6,188.4 150.0,182.3 135.0,216.2 120.0,209.0 129.0,201.8 129.4,182.4 134.1,175.5" fill="#0a5fb0" stroke="#ffffff" stroke-width="2.00" stroke-linejoin="round"/><polygon points="134.1,165.7 137.7,166.2 138.7,172.7 143.0,171.2 142.6,188.4 150.0,182.3 135.0,216.2 120.0,209.0 129.0,201.8 129.4,182.4 134.1,175.5" fill="#0a5fb0" stroke="none" stroke-width="0.00" stroke-linejoin="round"/><polyline points="134.1,175.5 134.1,165.7 137.7,166.2 138.7,172.7" fill="none" stroke="#0d2a4d" stroke-width="1.10" stroke-linejoin="round"/><polygon points="105.4,183.6 208.6,102.5 210.9,103.7 210.7,151.4 104.4,239.6" fill="#ffffff" stroke="#000" stroke-width="1.80" stroke-linejoin="round"/><polygon points="108.5,185.0 209.3,104.7 209.1,149.2 107.7,233.0" fill="none" stroke="#8c8c8c" stroke-width="0.70" stroke-linejoin="round"/><polyline points="106.6,183.7 105.7,237.7" fill="none" stroke="#c8c8c8" stroke-width="0.60" stroke-linejoin="round"/><polygon points="112.7,198.8 120.0,192.7 119.8,210.3 112.4,216.4" fill="#ffffff" stroke="#000" stroke-width="1.30" stroke-linejoin="round"/><polygon points="122.6,190.6 129.9,184.6 129.6,202.1 122.3,208.1" fill="#ffffff" stroke="#000" stroke-width="1.30" stroke-linejoin="round"/><polygon points="132.4,182.5 139.7,176.4 139.5,193.9 132.2,199.9" fill="#ffffff" stroke="#000" stroke-width="1.30" stroke-linejoin="round"/><polygon points="142.3,174.3 149.6,168.3 149.4,185.7 142.0,191.7" fill="#ffffff" stroke="#000" stroke-width="1.30" stroke-linejoin="round"/><polygon points="152.1,166.2 159.4,160.1 159.2,177.5 151.9,183.5" fill="#ffffff" stroke="#000" stroke-width="1.30" stroke-linejoin="round"/><polygon points="171.5,150.2 178.8,144.1 178.6,161.3 171.3,167.4" fill="#ffffff" stroke="#000" stroke-width="1.30" stroke-linejoin="round"/><polygon points="181.3,142.0 188.6,136.0 188.5,153.2 181.2,159.2" fill="#ffffff" stroke="#000" stroke-width="1.30" stroke-linejoin="round"/><polygon points="191.2,133.9 198.5,127.9 198.4,145.0 191.0,151.0" fill="#ffffff" stroke="#000" stroke-width="1.30" stroke-linejoin="round"/><polygon points="201.0,125.8 208.3,119.8 208.2,136.8 200.9,142.9" fill="#ffffff" stroke="#000" stroke-width="1.30" stroke-linejoin="round"/><polygon points="162.9,180.7 166.5,181.2 167.5,187.7 171.8,186.2 171.4,203.4 178.8,197.3 163.8,231.2 148.8,224.0 157.8,216.8 158.2,197.4 162.9,190.5" fill="#0a5fb0" stroke="#ffffff" stroke-width="2.00" stroke-linejoin="round"/><polygon points="162.9,180.7 166.5,181.2 167.5,187.7 171.8,186.2 171.4,203.4 178.8,197.3 163.8,231.2 148.8,224.0 157.8,216.8 158.2,197.4 162.9,190.5" fill="#0a5fb0" stroke="none" stroke-width="0.00" stroke-linejoin="round"/><polyline points="162.9,190.5 162.9,180.7 166.5,181.2 167.5,187.7" fill="none" stroke="#0d2a4d" stroke-width="1.10" stroke-linejoin="round"/><polygon points="168.9,196.7 271.2,118.5 273.5,119.7 273.3,167.4 167.9,252.7" fill="#ffffff" stroke="#000" stroke-width="1.80" stroke-linejoin="round"/><polygon points="172.0,198.2 271.9,120.7 271.7,165.1 171.1,246.2" fill="none" stroke="#8c8c8c" stroke-width="0.70" stroke-linejoin="round"/><polyline points="170.1,196.9 169.2,250.8" fill="none" stroke="#c8c8c8" stroke-width="0.60" stroke-linejoin="round"/><polygon points="176.2,212.1 183.4,206.2 183.1,223.8 175.9,229.7" fill="#ffffff" stroke="#000" stroke-width="1.30" stroke-linejoin="round"/><polygon points="185.9,204.2 193.2,198.3 192.9,215.8 185.7,221.7" fill="#ffffff" stroke="#000" stroke-width="1.30" stroke-linejoin="round"/><polygon points="195.7,196.3 202.9,190.5 202.7,207.9 195.4,213.8" fill="#ffffff" stroke="#000" stroke-width="1.30" stroke-linejoin="round"/><polygon points="205.5,188.4 212.7,182.6 212.5,200.0 205.2,205.9" fill="#ffffff" stroke="#000" stroke-width="1.30" stroke-linejoin="round"/><polygon points="215.2,180.6 222.5,174.7 222.3,192.1 215.0,197.9" fill="#ffffff" stroke="#000" stroke-width="1.30" stroke-linejoin="round"/><polygon points="234.4,165.1 241.7,159.3 241.5,176.5 234.2,182.3" fill="#ffffff" stroke="#000" stroke-width="1.30" stroke-linejoin="round"/><polygon points="244.2,157.2 251.4,151.4 251.3,168.5 244.0,174.4" fill="#ffffff" stroke="#000" stroke-width="1.30" stroke-linejoin="round"/><polygon points="253.9,149.4 261.2,143.6 261.1,160.6 253.8,166.5" fill="#ffffff" stroke="#000" stroke-width="1.30" stroke-linejoin="round"/><polygon points="263.7,141.5 270.9,135.7 270.8,152.7 263.6,158.6" fill="#ffffff" stroke="#000" stroke-width="1.30" stroke-linejoin="round"/><polygon points="226.4,193.8 230.0,194.3 231.0,200.8 235.3,199.3 234.9,216.5 242.3,210.4 227.3,244.3 212.3,237.1 221.3,229.9 221.7,210.5 226.4,203.6" fill="#0a5fb0" stroke="#ffffff" stroke-width="2.00" stroke-linejoin="round"/><polygon points="226.4,193.8 230.0,194.3 231.0,200.8 235.3,199.3 234.9,216.5 242.3,210.4 227.3,244.3 212.3,237.1 221.3,229.9 221.7,210.5 226.4,203.6" fill="#0a5fb0" stroke="none" stroke-width="0.00" stroke-linejoin="round"/><polyline points="226.4,203.6 226.4,193.8 230.0,194.3 231.0,200.8" fill="none" stroke="#0d2a4d" stroke-width="1.10" stroke-linejoin="round"/><polygon points="197.7,216.3 299.8,136.6 302.1,137.8 301.9,185.5 196.7,272.3" fill="#ffffff" stroke="#000" stroke-width="1.80" stroke-linejoin="round"/><polygon points="200.8,217.8 300.5,138.8 300.3,183.2 199.9,265.8" fill="none" stroke="#8c8c8c" stroke-width="0.70" stroke-linejoin="round"/><polyline points="198.9,216.4 198.0,270.4" fill="none" stroke="#c8c8c8" stroke-width="0.60" stroke-linejoin="round"/><polygon points="205.0,231.6 212.2,225.6 211.9,243.2 204.7,249.2" fill="#ffffff" stroke="#000" stroke-width="1.30" stroke-linejoin="round"/><polygon points="214.7,223.5 221.9,217.6 221.7,235.1 214.4,241.1" fill="#ffffff" stroke="#000" stroke-width="1.30" stroke-linejoin="round"/><polygon points="224.4,215.5 231.7,209.6 231.4,227.0 224.2,233.0" fill="#ffffff" stroke="#000" stroke-width="1.30" stroke-linejoin="round"/><polygon points="234.2,207.5 241.4,201.6 241.2,218.9 234.0,224.9" fill="#ffffff" stroke="#000" stroke-width="1.30" stroke-linejoin="round"/><polygon points="243.9,199.5 251.2,193.6 251.0,210.9 243.7,216.9" fill="#ffffff" stroke="#000" stroke-width="1.30" stroke-linejoin="round"/><polygon points="263.1,183.7 270.3,177.8 270.2,195.0 262.9,201.0" fill="#ffffff" stroke="#000" stroke-width="1.30" stroke-linejoin="round"/><polygon points="272.8,175.7 280.0,169.8 279.9,187.0 272.7,192.9" fill="#ffffff" stroke="#000" stroke-width="1.30" stroke-linejoin="round"/><polygon points="282.6,167.8 289.8,161.8 289.7,178.9 282.4,184.9" fill="#ffffff" stroke="#000" stroke-width="1.30" stroke-linejoin="round"/><polygon points="292.3,159.8 299.5,153.8 299.4,170.8 292.2,176.8" fill="#ffffff" stroke="#000" stroke-width="1.30" stroke-linejoin="round"/><polygon points="255.2,213.4 258.8,213.9 259.8,220.4 264.1,218.9 263.7,236.1 271.1,230.0 256.1,263.9 241.1,256.7 250.1,249.5 250.5,230.1 255.2,223.2" fill="#0a5fb0" stroke="#ffffff" stroke-width="2.00" stroke-linejoin="round"/><polygon points="255.2,213.4 258.8,213.9 259.8,220.4 264.1,218.9 263.7,236.1 271.1,230.0 256.1,263.9 241.1,256.7 250.1,249.5 250.5,230.1 255.2,223.2" fill="#0a5fb0" stroke="none" stroke-width="0.00" stroke-linejoin="round"/><polyline points="255.2,223.2 255.2,213.4 258.8,213.9 259.8,220.4" fill="none" stroke="#0d2a4d" stroke-width="1.10" stroke-linejoin="round"/></g><g transform="translate(149.8,291.3)"><polygon points="84.4,280.1 196.8,179.5 197.5,169.3 85.1,269.1" fill="#e6e6e6" stroke="#000" stroke-width="1.35" stroke-linejoin="round"/><polygon points="73.0,263.2 85.1,269.1 197.5,169.3 186.3,163.9" fill="#e6e6e6" stroke="#000" stroke-width="1.35" stroke-linejoin="round"/><polyline points="89.8,262.6 184.6,178.6" fill="none" stroke="#000" stroke-width="0.76" stroke-linejoin="round"/><polygon points="84.8,257.8 88.6,259.7 136.5,217.4 132.8,215.6" fill="#ececec" stroke="#000" stroke-width="0.95" stroke-linejoin="round"/><polygon points="136.7,212.1 140.5,213.9 181.4,177.7 177.8,176.0" fill="#ececec" stroke="#000" stroke-width="0.95" stroke-linejoin="round"/><polygon points="187.3,143.8 201.4,146.6 204.4,158.5 199.7,163.6 187.3,160.2" fill="#ffffff" stroke="#000" stroke-width="1.35" stroke-linejoin="round"/><polyline points="188.1,147.3 200.6,149.6 202.6,158.0" fill="none" stroke="#b4b4b4" stroke-width="0.60" stroke-linejoin="round"/><polygon points="185.5,189.5 196.8,179.5 198.2,158.9 186.9,168.7" fill="#e6e6e6" stroke="#000" stroke-width="1.35" stroke-linejoin="round"/><polygon points="174.9,174.8 186.2,180.3 186.9,168.7 175.7,163.3" fill="#e6e6e6" stroke="#000" stroke-width="1.35" stroke-linejoin="round"/><polygon points="175.7,163.3 186.9,168.7 198.2,158.9 187.0,153.4" fill="#eeeeee" stroke="#000" stroke-width="1.35" stroke-linejoin="round"/><polygon points="190.4,155.1 185.3,159.5 189.8,161.7 194.8,157.2" fill="#ffffff" stroke="#000" stroke-width="0.95" stroke-linejoin="round"/><polygon points="72.2,274.2 84.4,280.1 90.8,274.4 92.1,255.0 85.7,260.6 73.6,254.7" fill="#e6e6e6" stroke="none" stroke-width="0.00" stroke-linejoin="round"/><polyline points="91.5,263.4 92.1,255.0 85.7,260.6 73.6,254.7 72.2,274.2 84.4,280.1 90.8,274.4" fill="none" stroke="#000" stroke-width="1.35" stroke-linejoin="round"/><polygon points="73.6,254.7 85.7,260.6 92.1,255.0 80.1,249.1" fill="#eeeeee" stroke="#000" stroke-width="1.35" stroke-linejoin="round"/><polygon points="84.5,251.3 80.5,255.1 84.7,256.9 89.3,253.6" fill="#fafafa" stroke="none" stroke-width="0.00" stroke-linejoin="round"/><polyline points="83.2,252.4 80.5,255.1 84.7,256.9 88.4,254.4" fill="none" stroke="#000" stroke-width="1.22" stroke-linejoin="round"/><polygon points="101.6,288.2 213.5,186.1 214.1,176.0 102.2,277.2" fill="#9c9c9c" stroke="#000" stroke-width="1.35" stroke-linejoin="round"/><polygon points="90.1,271.3 102.2,277.2 214.1,176.0 203.0,170.5" fill="#a2a2a2" stroke="#000" stroke-width="1.35" stroke-linejoin="round"/><polyline points="106.9,270.6 201.4,185.3" fill="none" stroke="#000" stroke-width="0.76" stroke-linejoin="round"/><polygon points="101.9,265.8 105.7,267.7 153.4,224.7 149.7,222.9" fill="#9a9a9a" stroke="#000" stroke-width="0.95" stroke-linejoin="round"/><polygon points="153.6,219.4 157.4,221.2 198.1,184.5 194.5,182.7" fill="#9a9a9a" stroke="#000" stroke-width="0.95" stroke-linejoin="round"/><polygon points="202.4,196.3 213.5,186.1 215.0,160.8 203.8,170.8" fill="#9c9c9c" stroke="#000" stroke-width="1.35" stroke-linejoin="round"/><polygon points="203.8,170.8 215.0,160.8 215.3,156.7 210.6,155.0 203.8,170.8" fill="#f4f4f4" stroke="#000" stroke-width="1.35" stroke-linejoin="round"/><polygon points="191.6,181.5 202.9,187.0 203.8,170.8 192.7,165.4" fill="#9c9c9c" stroke="#000" stroke-width="1.35" stroke-linejoin="round"/><polygon points="192.7,165.4 203.8,170.8 210.6,155.0 199.5,149.5" fill="#ffffff" stroke="#000" stroke-width="1.35" stroke-linejoin="round"/><polygon points="199.5,149.5 210.6,155.0 215.3,156.7 204.2,151.3" fill="#ffffff" stroke="#000" stroke-width="1.35" stroke-linejoin="round"/><polyline points="194.6,164.2 202.1,168.2 208.3,157.3" fill="none" stroke="#b4b4b4" stroke-width="0.60" stroke-linejoin="round"/><polygon points="89.4,282.3 101.6,288.2 108.0,282.4 109.1,263.0 102.7,268.7 90.7,262.8" fill="#9c9c9c" stroke="none" stroke-width="0.00" stroke-linejoin="round"/><polyline points="108.6,271.4 109.1,263.0 102.7,268.7 90.7,262.8 89.4,282.3 101.6,288.2 108.0,282.4" fill="none" stroke="#000" stroke-width="1.35" stroke-linejoin="round"/><polygon points="90.7,262.8 102.7,268.7 109.1,263.0 97.1,257.1" fill="#a4a4a4" stroke="#000" stroke-width="1.35" stroke-linejoin="round"/><polygon points="101.5,259.3 97.5,263.2 101.7,264.9 106.4,261.6" fill="#b0b0b0" stroke="none" stroke-width="0.00" stroke-linejoin="round"/><polyline points="100.3,260.4 97.5,263.2 101.7,264.9 105.4,262.5" fill="none" stroke="#000" stroke-width="1.22" stroke-linejoin="round"/><polygon points="118.8,296.3 230.3,192.7 230.8,182.5 119.4,285.3" fill="#e6e6e6" stroke="#000" stroke-width="1.35" stroke-linejoin="round"/><polygon points="107.2,279.4 119.4,285.3 230.8,182.5 219.7,177.1" fill="#e6e6e6" stroke="#000" stroke-width="1.35" stroke-linejoin="round"/><polyline points="124.0,278.6 218.1,192.1" fill="none" stroke="#000" stroke-width="0.76" stroke-linejoin="round"/><polygon points="118.9,273.8 122.8,275.7 170.3,232.1 166.6,230.3" fill="#ececec" stroke="#000" stroke-width="0.95" stroke-linejoin="round"/><polygon points="170.5,226.7 174.2,228.5 214.8,191.3 211.2,189.5" fill="#ececec" stroke="#000" stroke-width="0.95" stroke-linejoin="round"/><polygon points="220.8,157.0 234.9,159.8 237.9,171.7 233.2,176.8 220.8,173.4" fill="#ffffff" stroke="#000" stroke-width="1.35" stroke-linejoin="round"/><polyline points="221.6,160.5 234.1,162.8 236.1,171.2" fill="none" stroke="#b4b4b4" stroke-width="0.60" stroke-linejoin="round"/><polygon points="219.1,203.0 230.3,192.7 231.3,172.1 220.2,182.3" fill="#e6e6e6" stroke="#000" stroke-width="1.35" stroke-linejoin="round"/><polygon points="208.4,188.3 219.6,193.7 220.2,182.3 209.0,176.8" fill="#e6e6e6" stroke="#000" stroke-width="1.35" stroke-linejoin="round"/><polygon points="209.0,176.8 220.2,182.3 231.3,172.1 220.2,166.6" fill="#eeeeee" stroke="#000" stroke-width="1.35" stroke-linejoin="round"/><polygon points="223.6,168.3 218.5,172.8 223.0,175.0 228.0,170.4" fill="#ffffff" stroke="#000" stroke-width="0.95" stroke-linejoin="round"/><polygon points="106.6,290.4 118.8,296.3 125.2,290.4 126.1,271.0 119.8,276.8 107.7,270.9" fill="#e6e6e6" stroke="none" stroke-width="0.00" stroke-linejoin="round"/><polyline points="125.7,279.4 126.1,271.0 119.8,276.8 107.7,270.9 106.6,290.4 118.8,296.3 125.2,290.4" fill="none" stroke="#000" stroke-width="1.35" stroke-linejoin="round"/><polygon points="107.7,270.9 119.8,276.8 126.1,271.0 114.1,265.1" fill="#eeeeee" stroke="#000" stroke-width="1.35" stroke-linejoin="round"/><polygon points="118.6,267.3 114.6,271.2 118.8,273.0 123.4,269.6" fill="#fafafa" stroke="none" stroke-width="0.00" stroke-linejoin="round"/><polyline points="117.3,268.4 114.6,271.2 118.8,273.0 122.4,270.5" fill="none" stroke="#000" stroke-width="1.22" stroke-linejoin="round"/><polygon points="136.0,304.4 247.0,199.2 247.5,189.1 136.5,293.4" fill="#9c9c9c" stroke="#000" stroke-width="1.35" stroke-linejoin="round"/><polygon points="124.3,287.5 136.5,293.4 247.5,189.1 236.3,183.7" fill="#a2a2a2" stroke="#000" stroke-width="1.35" stroke-linejoin="round"/><polyline points="141.1,286.6 234.8,198.8" fill="none" stroke="#000" stroke-width="0.76" stroke-linejoin="round"/><polygon points="136.0,281.8 139.9,283.7 187.2,239.4 183.5,237.6" fill="#9a9a9a" stroke="#000" stroke-width="0.95" stroke-linejoin="round"/><polygon points="187.4,234.0 191.1,235.8 231.5,198.0 227.9,196.2" fill="#9a9a9a" stroke="#000" stroke-width="0.95" stroke-linejoin="round"/><polygon points="237.5,163.6 251.6,166.4 254.6,178.3 249.9,183.4 237.5,179.9" fill="#ffffff" stroke="#000" stroke-width="1.35" stroke-linejoin="round"/><polyline points="238.3,167.1 250.8,169.4 252.8,177.8" fill="none" stroke="#b4b4b4" stroke-width="0.60" stroke-linejoin="round"/><polygon points="235.9,209.7 247.0,199.2 247.9,178.7 236.8,189.0" fill="#9c9c9c" stroke="#000" stroke-width="1.35" stroke-linejoin="round"/><polygon points="225.1,195.0 236.3,200.5 236.8,189.0 225.6,183.5" fill="#9c9c9c" stroke="#000" stroke-width="1.35" stroke-linejoin="round"/><polygon points="225.6,183.5 236.8,189.0 247.9,178.7 236.8,173.2" fill="#a4a4a4" stroke="#000" stroke-width="1.35" stroke-linejoin="round"/><polygon points="240.1,174.9 235.1,179.5 239.6,181.7 244.6,177.0" fill="#ffffff" stroke="#000" stroke-width="0.95" stroke-linejoin="round"/><polygon points="123.8,298.5 136.0,304.4 142.3,298.4 143.2,279.0 136.8,284.9 124.8,279.0" fill="#9c9c9c" stroke="none" stroke-width="0.00" stroke-linejoin="round"/><polyline points="142.8,287.5 143.2,279.0 136.8,284.9 124.8,279.0 123.8,298.5 136.0,304.4 142.3,298.4" fill="none" stroke="#000" stroke-width="1.35" stroke-linejoin="round"/><polygon points="124.8,279.0 136.8,284.9 143.2,279.0 131.1,273.1" fill="#a4a4a4" stroke="#000" stroke-width="1.35" stroke-linejoin="round"/><polygon points="135.6,275.3 131.6,279.3 135.8,281.1 140.4,277.6" fill="#b0b0b0" stroke="none" stroke-width="0.00" stroke-linejoin="round"/><polyline points="134.3,276.5 131.6,279.3 135.8,281.1 139.4,278.5" fill="none" stroke="#000" stroke-width="1.22" stroke-linejoin="round"/><polygon points="164.2,318.2 274.4,210.5 274.7,200.4 164.5,307.2" fill="#9c9c9c" stroke="#000" stroke-width="1.35" stroke-linejoin="round"/><polygon points="152.4,301.3 164.5,307.2 274.7,200.4 263.6,195.0" fill="#a2a2a2" stroke="#000" stroke-width="1.35" stroke-linejoin="round"/><polyline points="169.1,300.3 262.1,210.3" fill="none" stroke="#000" stroke-width="0.76" stroke-linejoin="round"/><polygon points="164.0,295.4 167.9,297.3 214.9,252.0 211.1,250.1" fill="#9a9a9a" stroke="#000" stroke-width="0.95" stroke-linejoin="round"/><polygon points="215.0,246.4 218.7,248.2 258.9,209.5 255.3,207.8" fill="#9a9a9a" stroke="#000" stroke-width="0.95" stroke-linejoin="round"/><polygon points="264.9,177.9 279.0,180.4 282.0,191.0 277.3,195.6 264.9,192.5" fill="#ffffff" stroke="#000" stroke-width="1.35" stroke-linejoin="round"/><polyline points="265.7,181.4 278.2,183.4 280.2,190.5" fill="none" stroke="#b4b4b4" stroke-width="0.60" stroke-linejoin="round"/><polygon points="263.4,221.2 274.4,210.5 274.9,192.1 263.9,202.7" fill="#9c9c9c" stroke="#000" stroke-width="1.35" stroke-linejoin="round"/><polygon points="252.4,206.5 263.7,212.0 263.9,202.7 252.7,197.3" fill="#9c9c9c" stroke="#000" stroke-width="1.35" stroke-linejoin="round"/><polygon points="252.7,197.3 263.9,202.7 274.9,192.1 263.9,186.7" fill="#a4a4a4" stroke="#000" stroke-width="1.35" stroke-linejoin="round"/><polygon points="267.2,188.3 262.2,193.1 266.7,195.3 271.6,190.5" fill="#ffffff" stroke="#000" stroke-width="0.95" stroke-linejoin="round"/><polygon points="152.0,312.3 164.2,318.2 170.5,312.1 171.1,292.7 164.8,298.7 152.7,292.8" fill="#9c9c9c" stroke="none" stroke-width="0.00" stroke-linejoin="round"/><polyline points="170.8,301.1 171.1,292.7 164.8,298.7 152.7,292.8 152.0,312.3 164.2,318.2 170.5,312.1" fill="none" stroke="#000" stroke-width="1.35" stroke-linejoin="round"/><polygon points="152.7,292.8 164.8,298.7 171.1,292.7 159.0,286.8" fill="#a4a4a4" stroke="#000" stroke-width="1.35" stroke-linejoin="round"/><polygon points="163.5,289.0 159.6,293.1 163.7,294.8 168.3,291.3" fill="#b0b0b0" stroke="none" stroke-width="0.00" stroke-linejoin="round"/><polyline points="162.2,290.2 159.6,293.1 163.7,294.8 167.4,292.2" fill="none" stroke="#000" stroke-width="1.22" stroke-linejoin="round"/><polygon points="179.7,326.6 289.4,217.4 289.6,207.3 180.0,315.6" fill="#e6e6e6" stroke="#000" stroke-width="1.35" stroke-linejoin="round"/><polygon points="167.8,309.7 180.0,315.6 289.6,207.3 278.5,201.9" fill="#e6e6e6" stroke="#000" stroke-width="1.35" stroke-linejoin="round"/><polyline points="184.5,308.6 277.1,217.4" fill="none" stroke="#000" stroke-width="0.76" stroke-linejoin="round"/><polygon points="179.4,303.7 183.3,305.6 230.0,259.6 226.3,257.8" fill="#ececec" stroke="#000" stroke-width="0.95" stroke-linejoin="round"/><polygon points="230.2,254.0 233.9,255.8 273.9,216.6 270.3,214.8" fill="#ececec" stroke="#000" stroke-width="0.95" stroke-linejoin="round"/><polygon points="279.9,182.3 294.0,184.8 297.0,195.4 292.3,200.0 279.9,196.9" fill="#ffffff" stroke="#000" stroke-width="1.35" stroke-linejoin="round"/><polyline points="280.7,185.8 293.2,187.8 295.2,194.9" fill="none" stroke="#b4b4b4" stroke-width="0.60" stroke-linejoin="round"/><polygon points="278.4,228.3 289.4,217.4 289.8,199.0 278.9,209.8" fill="#e6e6e6" stroke="#000" stroke-width="1.35" stroke-linejoin="round"/><polygon points="267.4,213.6 278.6,219.0 278.9,209.8 267.7,204.3" fill="#e6e6e6" stroke="#000" stroke-width="1.35" stroke-linejoin="round"/><polygon points="267.7,204.3 278.9,209.8 289.8,199.0 278.8,193.6" fill="#eeeeee" stroke="#000" stroke-width="1.35" stroke-linejoin="round"/><polygon points="282.1,195.3 277.1,200.1 281.6,202.3 286.5,197.4" fill="#ffffff" stroke="#000" stroke-width="0.95" stroke-linejoin="round"/><polygon points="167.5,320.7 179.7,326.6 186.0,320.4 186.4,301.0 180.2,307.1 168.1,301.2" fill="#e6e6e6" stroke="none" stroke-width="0.00" stroke-linejoin="round"/><polyline points="186.2,309.4 186.4,301.0 180.2,307.1 168.1,301.2 167.5,320.7 179.7,326.6 186.0,320.4" fill="none" stroke="#000" stroke-width="1.35" stroke-linejoin="round"/><polygon points="168.1,301.2 180.2,307.1 186.4,301.0 174.4,295.1" fill="#eeeeee" stroke="#000" stroke-width="1.35" stroke-linejoin="round"/><polygon points="178.8,297.3 174.9,301.4 179.1,303.2 183.6,299.6" fill="#fafafa" stroke="none" stroke-width="0.00" stroke-linejoin="round"/><polyline points="177.6,298.5 174.9,301.4 179.1,303.2 182.7,300.5" fill="none" stroke="#000" stroke-width="1.22" stroke-linejoin="round"/><polygon points="197.6,334.0 306.7,223.2 306.9,213.2 197.8,323.0" fill="#9c9c9c" stroke="#000" stroke-width="1.35" stroke-linejoin="round"/><polygon points="185.6,317.1 197.8,323.0 306.9,213.2 295.8,207.8" fill="#a2a2a2" stroke="#000" stroke-width="1.35" stroke-linejoin="round"/><polyline points="202.3,315.9 294.4,223.4" fill="none" stroke="#000" stroke-width="0.76" stroke-linejoin="round"/><polygon points="197.2,311.0 201.0,312.9 247.6,266.3 243.9,264.5" fill="#9a9a9a" stroke="#000" stroke-width="0.95" stroke-linejoin="round"/><polygon points="247.7,260.6 251.4,262.4 291.2,222.6 287.6,220.9" fill="#9a9a9a" stroke="#000" stroke-width="0.95" stroke-linejoin="round"/><polygon points="295.8,234.3 306.7,223.2 307.1,200.8 296.2,211.7" fill="#9c9c9c" stroke="#000" stroke-width="1.35" stroke-linejoin="round"/><polygon points="296.2,211.7 307.1,200.8 307.1,197.1 302.3,196.5 296.2,211.7" fill="#f4f4f4" stroke="#000" stroke-width="1.35" stroke-linejoin="round"/><polygon points="284.7,219.6 296.0,225.1 296.2,211.7 285.0,206.2" fill="#9c9c9c" stroke="#000" stroke-width="1.35" stroke-linejoin="round"/><polygon points="285.0,206.2 296.2,211.7 302.3,196.5 291.3,191.1" fill="#ffffff" stroke="#000" stroke-width="1.35" stroke-linejoin="round"/><polygon points="291.3,191.1 302.3,196.5 307.1,197.1 296.1,191.7" fill="#ffffff" stroke="#000" stroke-width="1.35" stroke-linejoin="round"/><polyline points="286.8,205.0 294.4,209.0 300.1,198.9" fill="none" stroke="#b4b4b4" stroke-width="0.60" stroke-linejoin="round"/><polygon points="185.4,328.1 197.6,334.0 203.8,327.7 204.1,308.3 197.9,314.5 185.8,308.6" fill="#9c9c9c" stroke="none" stroke-width="0.00" stroke-linejoin="round"/><polyline points="204.0,316.7 204.1,308.3 197.9,314.5 185.8,308.6 185.4,328.1 197.6,334.0 203.8,327.7" fill="none" stroke="#000" stroke-width="1.35" stroke-linejoin="round"/><polygon points="185.8,308.6 197.9,314.5 204.1,308.3 192.1,302.4" fill="#a4a4a4" stroke="#000" stroke-width="1.35" stroke-linejoin="round"/><polygon points="196.5,304.6 192.7,308.8 196.8,310.5 201.4,306.9" fill="#b0b0b0" stroke="none" stroke-width="0.00" stroke-linejoin="round"/><polyline points="195.3,305.8 192.7,308.8 196.8,310.5 200.4,307.9" fill="none" stroke="#000" stroke-width="1.22" stroke-linejoin="round"/><polygon points="210.7,339.8 319.4,227.9 319.5,217.8 210.8,328.8" fill="#e6e6e6" stroke="#000" stroke-width="1.35" stroke-linejoin="round"/><polygon points="198.3,322.2 210.8,328.8 319.5,217.8 308.0,211.8" fill="#e6e6e6" stroke="#000" stroke-width="1.35" stroke-linejoin="round"/><polyline points="215.3,321.6 307.0,228.1" fill="none" stroke="#000" stroke-width="0.76" stroke-linejoin="round"/><polygon points="209.9,316.2 213.9,318.3 260.2,271.2 256.4,269.2" fill="#ececec" stroke="#000" stroke-width="0.95" stroke-linejoin="round"/><polygon points="260.2,265.3 264.1,267.4 303.6,227.2 299.9,225.2" fill="#ececec" stroke="#000" stroke-width="0.95" stroke-linejoin="round"/><polygon points="309.5,196.6 323.6,199.1 326.6,209.7 321.9,214.3 309.5,211.2" fill="#ffffff" stroke="#000" stroke-width="1.35" stroke-linejoin="round"/><polyline points="310.3,200.1 322.8,202.1 324.8,209.2" fill="none" stroke="#b4b4b4" stroke-width="0.60" stroke-linejoin="round"/><polygon points="308.5,239.1 319.4,227.9 319.5,209.6 308.7,220.6" fill="#e6e6e6" stroke="#000" stroke-width="1.35" stroke-linejoin="round"/><polygon points="297.0,223.7 308.6,229.8 308.7,220.6 297.1,214.5" fill="#e6e6e6" stroke="#000" stroke-width="1.35" stroke-linejoin="round"/><polygon points="297.1,214.5 308.7,220.6 319.5,209.6 308.1,203.5" fill="#eeeeee" stroke="#000" stroke-width="1.35" stroke-linejoin="round"/><polygon points="311.5,205.3 306.6,210.3 311.2,212.7 316.1,207.8" fill="#ffffff" stroke="#000" stroke-width="0.95" stroke-linejoin="round"/><polygon points="198.1,333.2 210.7,339.8 216.9,333.4 217.1,314.0 210.9,320.3 198.4,313.7" fill="#e6e6e6" stroke="none" stroke-width="0.00" stroke-linejoin="round"/><polyline points="217.0,322.5 217.1,314.0 210.9,320.3 198.4,313.7 198.1,333.2 210.7,339.8 216.9,333.4" fill="none" stroke="#000" stroke-width="1.35" stroke-linejoin="round"/><polygon points="198.4,313.7 210.9,320.3 217.1,314.0 204.7,307.4" fill="#eeeeee" stroke="#000" stroke-width="1.35" stroke-linejoin="round"/><polygon points="209.3,309.9 205.4,314.1 209.7,316.1 214.2,312.5" fill="#fafafa" stroke="none" stroke-width="0.00" stroke-linejoin="round"/><polyline points="208.0,311.1 205.4,314.1 209.7,316.1 213.3,313.4" fill="none" stroke="#000" stroke-width="1.22" stroke-linejoin="round"/><polygon points="76.7,167.5 179.3,88.8 181.6,90.0 181.4,137.7 75.7,223.5" fill="#ffffff" stroke="#000" stroke-width="1.80" stroke-linejoin="round"/><polygon points="79.8,169.0 180.0,91.0 179.8,135.4 78.9,217.0" fill="none" stroke="#8c8c8c" stroke-width="0.70" stroke-linejoin="round"/><polyline points="77.9,167.7 77.0,221.6" fill="none" stroke="#c8c8c8" stroke-width="0.60" stroke-linejoin="round"/><polygon points="84.0,182.8 91.3,176.9 91.0,194.5 83.7,200.4" fill="#ffffff" stroke="#000" stroke-width="1.30" stroke-linejoin="round"/><polygon points="93.8,174.9 101.0,169.0 100.8,186.5 93.5,192.4" fill="#ffffff" stroke="#000" stroke-width="1.30" stroke-linejoin="round"/><polygon points="103.6,167.0 110.8,161.1 110.6,178.5 103.3,184.5" fill="#ffffff" stroke="#000" stroke-width="1.30" stroke-linejoin="round"/><polygon points="113.4,159.1 120.6,153.2 120.4,170.6 113.1,176.5" fill="#ffffff" stroke="#000" stroke-width="1.30" stroke-linejoin="round"/><polygon points="123.1,151.1 130.4,145.3 130.2,162.6 122.9,168.5" fill="#ffffff" stroke="#000" stroke-width="1.30" stroke-linejoin="round"/><polygon points="142.4,135.6 149.7,129.7 149.5,146.9 142.2,152.8" fill="#ffffff" stroke="#000" stroke-width="1.30" stroke-linejoin="round"/><polygon points="152.2,127.7 159.4,121.8 159.3,138.9 152.0,144.9" fill="#ffffff" stroke="#000" stroke-width="1.30" stroke-linejoin="round"/><polygon points="162.0,119.8 169.2,113.9 169.1,131.0 161.9,136.9" fill="#ffffff" stroke="#000" stroke-width="1.30" stroke-linejoin="round"/><polygon points="171.8,111.9 179.0,106.0 178.9,123.0 171.7,128.9" fill="#ffffff" stroke="#000" stroke-width="1.30" stroke-linejoin="round"/><polygon points="134.2,164.6 137.8,165.1 138.8,171.6 143.1,170.1 142.7,187.3 150.1,181.2 135.1,215.1 120.1,207.9 129.1,200.7 129.5,181.3 134.2,174.4" fill="#0a5fb0" stroke="#ffffff" stroke-width="2.00" stroke-linejoin="round"/><polygon points="134.2,164.6 137.8,165.1 138.8,171.6 143.1,170.1 142.7,187.3 150.1,181.2 135.1,215.1 120.1,207.9 129.1,200.7 129.5,181.3 134.2,174.4" fill="#0a5fb0" stroke="none" stroke-width="0.00" stroke-linejoin="round"/><polyline points="134.2,174.4 134.2,164.6 137.8,165.1 138.8,171.6" fill="none" stroke="#0d2a4d" stroke-width="1.10" stroke-linejoin="round"/><polygon points="106.7,182.4 208.9,102.1 211.2,103.3 211.0,151.0 105.7,238.4" fill="#ffffff" stroke="#000" stroke-width="1.80" stroke-linejoin="round"/><polygon points="109.8,183.8 209.6,104.3 209.4,148.8 108.9,231.9" fill="none" stroke="#8c8c8c" stroke-width="0.70" stroke-linejoin="round"/><polyline points="107.9,182.5 107.0,236.5" fill="none" stroke="#c8c8c8" stroke-width="0.60" stroke-linejoin="round"/><polygon points="114.0,197.6 121.2,191.6 120.9,209.2 113.7,215.2" fill="#ffffff" stroke="#000" stroke-width="1.30" stroke-linejoin="round"/><polygon points="123.7,189.5 131.0,183.5 130.7,201.0 123.4,207.1" fill="#ffffff" stroke="#000" stroke-width="1.30" stroke-linejoin="round"/><polygon points="133.5,181.5 140.7,175.5 140.5,192.9 133.2,199.0" fill="#ffffff" stroke="#000" stroke-width="1.30" stroke-linejoin="round"/><polygon points="143.2,173.4 150.5,167.4 150.2,184.8 143.0,190.8" fill="#ffffff" stroke="#000" stroke-width="1.30" stroke-linejoin="round"/><polygon points="153.0,165.3 160.2,159.3 160.0,176.7 152.8,182.7" fill="#ffffff" stroke="#000" stroke-width="1.30" stroke-linejoin="round"/><polygon points="172.2,149.5 179.4,143.5 179.2,160.7 172.0,166.7" fill="#ffffff" stroke="#000" stroke-width="1.30" stroke-linejoin="round"/><polygon points="181.9,141.4 189.1,135.4 189.0,152.6 181.8,158.6" fill="#ffffff" stroke="#000" stroke-width="1.30" stroke-linejoin="round"/><polygon points="191.6,133.4 198.9,127.4 198.8,144.5 191.5,150.5" fill="#ffffff" stroke="#000" stroke-width="1.30" stroke-linejoin="round"/><polygon points="201.4,125.3 208.6,119.4 208.5,136.4 201.3,142.4" fill="#ffffff" stroke="#000" stroke-width="1.30" stroke-linejoin="round"/><polygon points="164.2,179.5 167.8,180.0 168.8,186.5 173.1,185.0 172.7,202.2 180.1,196.1 165.1,230.0 150.1,222.8 159.1,215.6 159.5,196.2 164.2,189.3" fill="#0a5fb0" stroke="#ffffff" stroke-width="2.00" stroke-linejoin="round"/><polygon points="164.2,179.5 167.8,180.0 168.8,186.5 173.1,185.0 172.7,202.2 180.1,196.1 165.1,230.0 150.1,222.8 159.1,215.6 159.5,196.2 164.2,189.3" fill="#0a5fb0" stroke="none" stroke-width="0.00" stroke-linejoin="round"/><polyline points="164.2,189.3 164.2,179.5 167.8,180.0 168.8,186.5" fill="none" stroke="#0d2a4d" stroke-width="1.10" stroke-linejoin="round"/><polygon points="121.7,190.5 224.5,109.9 226.8,111.1 226.6,158.8 120.7,246.5" fill="#ffffff" stroke="#000" stroke-width="1.80" stroke-linejoin="round"/><polygon points="124.8,191.9 225.2,112.1 225.0,156.6 123.9,240.0" fill="none" stroke="#8c8c8c" stroke-width="0.70" stroke-linejoin="round"/><polyline points="122.9,190.6 122.0,244.6" fill="none" stroke="#c8c8c8" stroke-width="0.60" stroke-linejoin="round"/><polygon points="129.0,205.7 136.3,199.7 136.0,217.2 128.7,223.3" fill="#ffffff" stroke="#000" stroke-width="1.30" stroke-linejoin="round"/><polygon points="138.8,197.6 146.1,191.6 145.8,209.1 138.5,215.1" fill="#ffffff" stroke="#000" stroke-width="1.30" stroke-linejoin="round"/><polygon points="148.6,189.5 155.9,183.5 155.7,200.9 148.4,207.0" fill="#ffffff" stroke="#000" stroke-width="1.30" stroke-linejoin="round"/><polygon points="158.4,181.4 165.7,175.4 165.5,192.8 158.2,198.8" fill="#ffffff" stroke="#000" stroke-width="1.30" stroke-linejoin="round"/><polygon points="168.2,173.3 175.5,167.3 175.3,184.6 168.0,190.7" fill="#ffffff" stroke="#000" stroke-width="1.30" stroke-linejoin="round"/><polygon points="187.5,157.4 194.8,151.4 194.7,168.6 187.4,174.6" fill="#ffffff" stroke="#000" stroke-width="1.30" stroke-linejoin="round"/><polygon points="197.3,149.3 204.6,143.3 204.5,160.4 197.2,166.5" fill="#ffffff" stroke="#000" stroke-width="1.30" stroke-linejoin="round"/><polygon points="207.1,141.2 214.4,135.2 214.3,152.3 207.0,158.3" fill="#ffffff" stroke="#000" stroke-width="1.30" stroke-linejoin="round"/><polygon points="216.9,133.2 224.2,127.2 224.1,144.2 216.8,150.2" fill="#ffffff" stroke="#000" stroke-width="1.30" stroke-linejoin="round"/><polygon points="179.2,187.6 182.8,188.1 183.8,194.6 188.1,193.1 187.7,210.3 195.1,204.2 180.1,238.1 165.1,230.9 174.1,223.7 174.5,204.3 179.2,197.4" fill="#0a5fb0" stroke="#ffffff" stroke-width="2.00" stroke-linejoin="round"/><polygon points="179.2,187.6 182.8,188.1 183.8,194.6 188.1,193.1 187.7,210.3 195.1,204.2 180.1,238.1 165.1,230.9 174.1,223.7 174.5,204.3 179.2,197.4" fill="#0a5fb0" stroke="none" stroke-width="0.00" stroke-linejoin="round"/><polyline points="179.2,197.4 179.2,187.6 182.8,188.1 183.8,194.6" fill="none" stroke="#0d2a4d" stroke-width="1.10" stroke-linejoin="round"/><polygon points="168.6,197.9 270.3,117.3 272.6,118.5 272.4,166.2 167.6,253.9" fill="#ffffff" stroke="#000" stroke-width="1.80" stroke-linejoin="round"/><polygon points="171.7,199.3 271.0,119.5 270.8,164.0 170.8,247.4" fill="none" stroke="#8c8c8c" stroke-width="0.70" stroke-linejoin="round"/><polyline points="169.8,198.0 168.9,252.0" fill="none" stroke="#c8c8c8" stroke-width="0.60" stroke-linejoin="round"/><polygon points="175.8,213.1 183.0,207.1 182.8,224.6 175.5,230.7" fill="#ffffff" stroke="#000" stroke-width="1.30" stroke-linejoin="round"/><polygon points="185.5,205.0 192.7,199.0 192.5,216.5 185.3,222.5" fill="#ffffff" stroke="#000" stroke-width="1.30" stroke-linejoin="round"/><polygon points="195.2,196.9 202.4,190.9 202.2,208.3 195.0,214.4" fill="#ffffff" stroke="#000" stroke-width="1.30" stroke-linejoin="round"/><polygon points="204.9,188.8 212.1,182.8 211.9,200.2 204.7,206.2" fill="#ffffff" stroke="#000" stroke-width="1.30" stroke-linejoin="round"/><polygon points="214.6,180.7 221.8,174.7 221.7,192.0 214.4,198.1" fill="#ffffff" stroke="#000" stroke-width="1.30" stroke-linejoin="round"/><polygon points="233.7,164.8 240.9,158.8 240.8,176.0 233.6,182.0" fill="#ffffff" stroke="#000" stroke-width="1.30" stroke-linejoin="round"/><polygon points="243.4,156.7 250.6,150.7 250.5,167.8 243.3,173.9" fill="#ffffff" stroke="#000" stroke-width="1.30" stroke-linejoin="round"/><polygon points="253.1,148.6 260.3,142.6 260.2,159.7 253.0,165.7" fill="#ffffff" stroke="#000" stroke-width="1.30" stroke-linejoin="round"/><polygon points="262.8,140.6 270.0,134.6 270.0,151.6 262.7,157.6" fill="#ffffff" stroke="#000" stroke-width="1.30" stroke-linejoin="round"/><polygon points="226.1,195.0 229.7,195.5 230.7,202.0 235.0,200.5 234.6,217.7 242.0,211.6 227.0,245.5 212.0,238.3 221.0,231.1 221.4,211.7 226.1,204.8" fill="#0a5fb0" stroke="#ffffff" stroke-width="2.00" stroke-linejoin="round"/><polygon points="226.1,195.0 229.7,195.5 230.7,202.0 235.0,200.5 234.6,217.7 242.0,211.6 227.0,245.5 212.0,238.3 221.0,231.1 221.4,211.7 226.1,204.8" fill="#0a5fb0" stroke="none" stroke-width="0.00" stroke-linejoin="round"/><polyline points="226.1,204.8 226.1,195.0 229.7,195.5 230.7,202.0" fill="none" stroke="#0d2a4d" stroke-width="1.10" stroke-linejoin="round"/><polygon points="181.5,204.0 283.3,123.4 285.6,124.6 285.4,172.3 180.5,260.0" fill="#ffffff" stroke="#000" stroke-width="1.80" stroke-linejoin="round"/><polygon points="184.6,205.4 284.0,125.6 283.8,170.1 183.7,253.5" fill="none" stroke="#8c8c8c" stroke-width="0.70" stroke-linejoin="round"/><polyline points="182.7,204.1 181.8,258.1" fill="none" stroke="#c8c8c8" stroke-width="0.60" stroke-linejoin="round"/><polygon points="188.7,219.2 195.9,213.2 195.7,230.7 188.4,236.8" fill="#ffffff" stroke="#000" stroke-width="1.30" stroke-linejoin="round"/><polygon points="198.5,211.1 205.7,205.1 205.4,222.6 198.2,228.6" fill="#ffffff" stroke="#000" stroke-width="1.30" stroke-linejoin="round"/><polygon points="208.2,203.0 215.4,197.0 215.1,214.4 207.9,220.5" fill="#ffffff" stroke="#000" stroke-width="1.30" stroke-linejoin="round"/><polygon points="217.9,194.9 225.1,188.9 224.9,206.3 217.6,212.3" fill="#ffffff" stroke="#000" stroke-width="1.30" stroke-linejoin="round"/><polygon points="227.6,186.8 234.8,180.8 234.6,198.1 227.4,204.2" fill="#ffffff" stroke="#000" stroke-width="1.30" stroke-linejoin="round"/><polygon points="246.7,170.9 253.9,164.9 253.8,182.1 246.5,188.1" fill="#ffffff" stroke="#000" stroke-width="1.30" stroke-linejoin="round"/><polygon points="256.4,162.8 263.6,156.8 263.5,173.9 256.3,180.0" fill="#ffffff" stroke="#000" stroke-width="1.30" stroke-linejoin="round"/><polygon points="266.1,154.7 273.3,148.7 273.2,165.8 266.0,171.8" fill="#ffffff" stroke="#000" stroke-width="1.30" stroke-linejoin="round"/><polygon points="275.8,146.7 283.0,140.7 283.0,157.7 275.7,163.7" fill="#ffffff" stroke="#000" stroke-width="1.30" stroke-linejoin="round"/><polygon points="239.0,201.1 242.6,201.6 243.6,208.1 247.9,206.6 247.5,223.8 254.9,217.7 239.9,251.6 224.9,244.4 233.9,237.2 234.3,217.8 239.0,210.9" fill="#0a5fb0" stroke="#ffffff" stroke-width="2.00" stroke-linejoin="round"/><polygon points="239.0,201.1 242.6,201.6 243.6,208.1 247.9,206.6 247.5,223.8 254.9,217.7 239.9,251.6 224.9,244.4 233.9,237.2 234.3,217.8 239.0,210.9" fill="#0a5fb0" stroke="none" stroke-width="0.00" stroke-linejoin="round"/><polyline points="239.0,210.9 239.0,201.1 242.6,201.6 243.6,208.1" fill="none" stroke="#0d2a4d" stroke-width="1.10" stroke-linejoin="round"/><polygon points="197.4,212.9 299.1,135.2 301.4,136.5 301.2,184.2 196.4,268.9" fill="#ffffff" stroke="#000" stroke-width="1.80" stroke-linejoin="round"/><polygon points="200.5,214.4 299.8,137.5 299.6,181.9 199.6,262.5" fill="none" stroke="#8c8c8c" stroke-width="0.70" stroke-linejoin="round"/><polyline points="198.6,213.1 197.7,267.0" fill="none" stroke="#c8c8c8" stroke-width="0.60" stroke-linejoin="round"/><polygon points="204.6,228.3 211.8,222.5 211.6,240.1 204.3,245.9" fill="#ffffff" stroke="#000" stroke-width="1.30" stroke-linejoin="round"/><polygon points="214.3,220.5 221.5,214.7 221.3,232.2 214.1,238.0" fill="#ffffff" stroke="#000" stroke-width="1.30" stroke-linejoin="round"/><polygon points="224.0,212.7 231.2,206.9 231.0,224.3 223.8,230.2" fill="#ffffff" stroke="#000" stroke-width="1.30" stroke-linejoin="round"/><polygon points="233.7,204.8 240.9,199.0 240.7,216.4 233.5,222.3" fill="#ffffff" stroke="#000" stroke-width="1.30" stroke-linejoin="round"/><polygon points="243.4,197.0 250.6,191.2 250.5,208.6 243.2,214.4" fill="#ffffff" stroke="#000" stroke-width="1.30" stroke-linejoin="round"/><polygon points="262.5,181.7 269.7,175.9 269.6,193.1 262.4,198.9" fill="#ffffff" stroke="#000" stroke-width="1.30" stroke-linejoin="round"/><polygon points="272.2,173.9 279.4,168.1 279.3,185.2 272.1,191.0" fill="#ffffff" stroke="#000" stroke-width="1.30" stroke-linejoin="round"/><polygon points="281.9,166.1 289.1,160.3 289.0,177.4 281.8,183.2" fill="#ffffff" stroke="#000" stroke-width="1.30" stroke-linejoin="round"/><polygon points="291.6,158.3 298.8,152.5 298.8,169.5 291.5,175.3" fill="#ffffff" stroke="#000" stroke-width="1.30" stroke-linejoin="round"/><polygon points="254.9,210.0 258.5,210.5 259.5,217.0 263.8,215.5 263.4,232.7 270.8,226.6 255.8,260.5 240.8,253.3 249.8,246.1 250.2,226.7 254.9,219.8" fill="#0a5fb0" stroke="#ffffff" stroke-width="2.00" stroke-linejoin="round"/><polygon points="254.9,210.0 258.5,210.5 259.5,217.0 263.8,215.5 263.4,232.7 270.8,226.6 255.8,260.5 240.8,253.3 249.8,246.1 250.2,226.7 254.9,219.8" fill="#0a5fb0" stroke="none" stroke-width="0.00" stroke-linejoin="round"/><polyline points="254.9,219.8 254.9,210.0 258.5,210.5 259.5,217.0" fill="none" stroke="#0d2a4d" stroke-width="1.10" stroke-linejoin="round"/></g><g transform="translate(500.3,291.1)"><polygon points="84.4,280.1 196.8,179.5 197.5,169.3 85.1,269.1" fill="#e6e6e6" stroke="#000" stroke-width="1.35" stroke-linejoin="round"/><polygon points="73.0,263.2 85.1,269.1 197.5,169.3 186.3,163.9" fill="#e6e6e6" stroke="#000" stroke-width="1.35" stroke-linejoin="round"/><polyline points="89.8,262.6 184.6,178.6" fill="none" stroke="#000" stroke-width="0.76" stroke-linejoin="round"/><polygon points="84.8,257.8 88.6,259.7 136.5,217.4 132.8,215.6" fill="#ececec" stroke="#000" stroke-width="0.95" stroke-linejoin="round"/><polygon points="136.7,212.1 140.5,213.9 181.4,177.7 177.8,176.0" fill="#ececec" stroke="#000" stroke-width="0.95" stroke-linejoin="round"/><polygon points="187.3,143.8 201.4,146.6 204.4,158.5 199.7,163.6 187.3,160.2" fill="#ffffff" stroke="#000" stroke-width="1.35" stroke-linejoin="round"/><polyline points="188.1,147.3 200.6,149.6 202.6,158.0" fill="none" stroke="#b4b4b4" stroke-width="0.60" stroke-linejoin="round"/><polygon points="185.5,189.5 196.8,179.5 198.2,158.9 186.9,168.7" fill="#e6e6e6" stroke="#000" stroke-width="1.35" stroke-linejoin="round"/><polygon points="174.9,174.8 186.2,180.3 186.9,168.7 175.7,163.3" fill="#e6e6e6" stroke="#000" stroke-width="1.35" stroke-linejoin="round"/><polygon points="175.7,163.3 186.9,168.7 198.2,158.9 187.0,153.4" fill="#eeeeee" stroke="#000" stroke-width="1.35" stroke-linejoin="round"/><polygon points="190.4,155.1 185.3,159.5 189.8,161.7 194.8,157.2" fill="#ffffff" stroke="#000" stroke-width="0.95" stroke-linejoin="round"/><polygon points="72.2,274.2 84.4,280.1 90.8,274.4 92.1,255.0 85.7,260.6 73.6,254.7" fill="#e6e6e6" stroke="none" stroke-width="0.00" stroke-linejoin="round"/><polyline points="91.5,263.4 92.1,255.0 85.7,260.6 73.6,254.7 72.2,274.2 84.4,280.1 90.8,274.4" fill="none" stroke="#000" stroke-width="1.35" stroke-linejoin="round"/><polygon points="73.6,254.7 85.7,260.6 92.1,255.0 80.1,249.1" fill="#eeeeee" stroke="#000" stroke-width="1.35" stroke-linejoin="round"/><polygon points="84.5,251.3 80.5,255.1 84.7,256.9 89.3,253.6" fill="#fafafa" stroke="none" stroke-width="0.00" stroke-linejoin="round"/><polyline points="83.2,252.4 80.5,255.1 84.7,256.9 88.4,254.4" fill="none" stroke="#000" stroke-width="1.22" stroke-linejoin="round"/><polygon points="101.6,288.2 213.5,186.1 214.1,176.0 102.2,277.2" fill="#9c9c9c" stroke="#000" stroke-width="1.35" stroke-linejoin="round"/><polygon points="90.1,271.3 102.2,277.2 214.1,176.0 203.0,170.5" fill="#a2a2a2" stroke="#000" stroke-width="1.35" stroke-linejoin="round"/><polyline points="106.9,270.6 201.4,185.3" fill="none" stroke="#000" stroke-width="0.76" stroke-linejoin="round"/><polygon points="101.9,265.8 105.7,267.7 153.4,224.7 149.7,222.9" fill="#9a9a9a" stroke="#000" stroke-width="0.95" stroke-linejoin="round"/><polygon points="153.6,219.4 157.4,221.2 198.1,184.5 194.5,182.7" fill="#9a9a9a" stroke="#000" stroke-width="0.95" stroke-linejoin="round"/><polygon points="204.0,150.4 218.1,153.2 221.1,165.1 216.4,170.2 204.0,166.8" fill="#ffffff" stroke="#000" stroke-width="1.35" stroke-linejoin="round"/><polyline points="204.8,153.9 217.3,156.2 219.3,164.6" fill="none" stroke="#b4b4b4" stroke-width="0.60" stroke-linejoin="round"/><polygon points="202.4,196.3 213.5,186.1 214.8,165.5 203.6,175.5" fill="#9c9c9c" stroke="#000" stroke-width="1.35" stroke-linejoin="round"/><polygon points="191.6,181.5 202.9,187.0 203.6,175.5 192.4,170.0" fill="#9c9c9c" stroke="#000" stroke-width="1.35" stroke-linejoin="round"/><polygon points="192.4,170.0 203.6,175.5 214.8,165.5 203.7,160.0" fill="#a4a4a4" stroke="#000" stroke-width="1.35" stroke-linejoin="round"/><polygon points="207.0,161.7 201.9,166.2 206.4,168.3 211.4,163.8" fill="#ffffff" stroke="#000" stroke-width="0.95" stroke-linejoin="round"/><polygon points="89.4,282.3 101.6,288.2 108.0,282.4 109.1,263.0 102.7,268.7 90.7,262.8" fill="#9c9c9c" stroke="none" stroke-width="0.00" stroke-linejoin="round"/><polyline points="108.6,271.4 109.1,263.0 102.7,268.7 90.7,262.8 89.4,282.3 101.6,288.2 108.0,282.4" fill="none" stroke="#000" stroke-width="1.35" stroke-linejoin="round"/><polygon points="90.7,262.8 102.7,268.7 109.1,263.0 97.1,257.1" fill="#a4a4a4" stroke="#000" stroke-width="1.35" stroke-linejoin="round"/><polygon points="101.5,259.3 97.5,263.2 101.7,264.9 106.4,261.6" fill="#b0b0b0" stroke="none" stroke-width="0.00" stroke-linejoin="round"/><polyline points="100.3,260.4 97.5,263.2 101.7,264.9 105.4,262.5" fill="none" stroke="#000" stroke-width="1.22" stroke-linejoin="round"/><polygon points="118.8,296.3 230.3,192.7 230.8,182.5 119.4,285.3" fill="#e6e6e6" stroke="#000" stroke-width="1.35" stroke-linejoin="round"/><polygon points="107.2,279.4 119.4,285.3 230.8,182.5 219.7,177.1" fill="#e6e6e6" stroke="#000" stroke-width="1.35" stroke-linejoin="round"/><polyline points="124.0,278.6 218.1,192.1" fill="none" stroke="#000" stroke-width="0.76" stroke-linejoin="round"/><polygon points="118.9,273.8 122.8,275.7 170.3,232.1 166.6,230.3" fill="#ececec" stroke="#000" stroke-width="0.95" stroke-linejoin="round"/><polygon points="170.5,226.7 174.2,228.5 214.8,191.3 211.2,189.5" fill="#ececec" stroke="#000" stroke-width="0.95" stroke-linejoin="round"/><polygon points="220.8,157.0 234.9,159.8 237.9,171.7 233.2,176.8 220.8,173.4" fill="#ffffff" stroke="#000" stroke-width="1.35" stroke-linejoin="round"/><polyline points="221.6,160.5 234.1,162.8 236.1,171.2" fill="none" stroke="#b4b4b4" stroke-width="0.60" stroke-linejoin="round"/><polygon points="219.1,203.0 230.3,192.7 231.3,172.1 220.2,182.3" fill="#e6e6e6" stroke="#000" stroke-width="1.35" stroke-linejoin="round"/><polygon points="208.4,188.3 219.6,193.7 220.2,182.3 209.0,176.8" fill="#e6e6e6" stroke="#000" stroke-width="1.35" stroke-linejoin="round"/><polygon points="209.0,176.8 220.2,182.3 231.3,172.1 220.2,166.6" fill="#eeeeee" stroke="#000" stroke-width="1.35" stroke-linejoin="round"/><polygon points="223.6,168.3 218.5,172.8 223.0,175.0 228.0,170.4" fill="#ffffff" stroke="#000" stroke-width="0.95" stroke-linejoin="round"/><polygon points="106.6,290.4 118.8,296.3 125.2,290.4 126.1,271.0 119.8,276.8 107.7,270.9" fill="#e6e6e6" stroke="none" stroke-width="0.00" stroke-linejoin="round"/><polyline points="125.7,279.4 126.1,271.0 119.8,276.8 107.7,270.9 106.6,290.4 118.8,296.3 125.2,290.4" fill="none" stroke="#000" stroke-width="1.35" stroke-linejoin="round"/><polygon points="107.7,270.9 119.8,276.8 126.1,271.0 114.1,265.1" fill="#eeeeee" stroke="#000" stroke-width="1.35" stroke-linejoin="round"/><polygon points="118.6,267.3 114.6,271.2 118.8,273.0 123.4,269.6" fill="#fafafa" stroke="none" stroke-width="0.00" stroke-linejoin="round"/><polyline points="117.3,268.4 114.6,271.2 118.8,273.0 122.4,270.5" fill="none" stroke="#000" stroke-width="1.22" stroke-linejoin="round"/><polygon points="136.0,304.4 247.0,199.2 247.5,189.1 136.5,293.4" fill="#9c9c9c" stroke="#000" stroke-width="1.35" stroke-linejoin="round"/><polygon points="124.3,287.5 136.5,293.4 247.5,189.1 236.3,183.7" fill="#a2a2a2" stroke="#000" stroke-width="1.35" stroke-linejoin="round"/><polyline points="141.1,286.6 234.8,198.8" fill="none" stroke="#000" stroke-width="0.76" stroke-linejoin="round"/><polygon points="136.0,281.8 139.9,283.7 187.2,239.4 183.5,237.6" fill="#9a9a9a" stroke="#000" stroke-width="0.95" stroke-linejoin="round"/><polygon points="187.4,234.0 191.1,235.8 231.5,198.0 227.9,196.2" fill="#9a9a9a" stroke="#000" stroke-width="0.95" stroke-linejoin="round"/><polygon points="237.5,163.6 251.6,166.4 254.6,178.3 249.9,183.4 237.5,179.9" fill="#ffffff" stroke="#000" stroke-width="1.35" stroke-linejoin="round"/><polyline points="238.3,167.1 250.8,169.4 252.8,177.8" fill="none" stroke="#b4b4b4" stroke-width="0.60" stroke-linejoin="round"/><polygon points="235.9,209.7 247.0,199.2 247.9,178.7 236.8,189.0" fill="#9c9c9c" stroke="#000" stroke-width="1.35" stroke-linejoin="round"/><polygon points="225.1,195.0 236.3,200.5 236.8,189.0 225.6,183.5" fill="#9c9c9c" stroke="#000" stroke-width="1.35" stroke-linejoin="round"/><polygon points="225.6,183.5 236.8,189.0 247.9,178.7 236.8,173.2" fill="#a4a4a4" stroke="#000" stroke-width="1.35" stroke-linejoin="round"/><polygon points="240.1,174.9 235.1,179.5 239.6,181.7 244.6,177.0" fill="#ffffff" stroke="#000" stroke-width="0.95" stroke-linejoin="round"/><polygon points="123.8,298.5 136.0,304.4 142.3,298.4 143.2,279.0 136.8,284.9 124.8,279.0" fill="#9c9c9c" stroke="none" stroke-width="0.00" stroke-linejoin="round"/><polyline points="142.8,287.5 143.2,279.0 136.8,284.9 124.8,279.0 123.8,298.5 136.0,304.4 142.3,298.4" fill="none" stroke="#000" stroke-width="1.35" stroke-linejoin="round"/><polygon points="124.8,279.0 136.8,284.9 143.2,279.0 131.1,273.1" fill="#a4a4a4" stroke="#000" stroke-width="1.35" stroke-linejoin="round"/><polygon points="135.6,275.3 131.6,279.3 135.8,281.1 140.4,277.6" fill="#b0b0b0" stroke="none" stroke-width="0.00" stroke-linejoin="round"/><polyline points="134.3,276.5 131.6,279.3 135.8,281.1 139.4,278.5" fill="none" stroke="#000" stroke-width="1.22" stroke-linejoin="round"/><polygon points="164.2,318.2 274.4,210.5 274.7,200.4 164.5,307.2" fill="#9c9c9c" stroke="#000" stroke-width="1.35" stroke-linejoin="round"/><polygon points="152.4,301.3 164.5,307.2 274.7,200.4 263.6,195.0" fill="#a2a2a2" stroke="#000" stroke-width="1.35" stroke-linejoin="round"/><polyline points="169.1,300.3 262.1,210.3" fill="none" stroke="#000" stroke-width="0.76" stroke-linejoin="round"/><polygon points="164.0,295.4 167.9,297.3 214.9,252.0 211.1,250.1" fill="#9a9a9a" stroke="#000" stroke-width="0.95" stroke-linejoin="round"/><polygon points="215.0,246.4 218.7,248.2 258.9,209.5 255.3,207.8" fill="#9a9a9a" stroke="#000" stroke-width="0.95" stroke-linejoin="round"/><polygon points="264.9,177.9 279.0,180.4 282.0,191.0 277.3,195.6 264.9,192.5" fill="#ffffff" stroke="#000" stroke-width="1.35" stroke-linejoin="round"/><polyline points="265.7,181.4 278.2,183.4 280.2,190.5" fill="none" stroke="#b4b4b4" stroke-width="0.60" stroke-linejoin="round"/><polygon points="263.4,221.2 274.4,210.5 274.9,192.1 263.9,202.7" fill="#9c9c9c" stroke="#000" stroke-width="1.35" stroke-linejoin="round"/><polygon points="252.4,206.5 263.7,212.0 263.9,202.7 252.7,197.3" fill="#9c9c9c" stroke="#000" stroke-width="1.35" stroke-linejoin="round"/><polygon points="252.7,197.3 263.9,202.7 274.9,192.1 263.9,186.7" fill="#a4a4a4" stroke="#000" stroke-width="1.35" stroke-linejoin="round"/><polygon points="267.2,188.3 262.2,193.1 266.7,195.3 271.6,190.5" fill="#ffffff" stroke="#000" stroke-width="0.95" stroke-linejoin="round"/><polygon points="152.0,312.3 164.2,318.2 170.5,312.1 171.1,292.7 164.8,298.7 152.7,292.8" fill="#9c9c9c" stroke="none" stroke-width="0.00" stroke-linejoin="round"/><polyline points="170.8,301.1 171.1,292.7 164.8,298.7 152.7,292.8 152.0,312.3 164.2,318.2 170.5,312.1" fill="none" stroke="#000" stroke-width="1.35" stroke-linejoin="round"/><polygon points="152.7,292.8 164.8,298.7 171.1,292.7 159.0,286.8" fill="#a4a4a4" stroke="#000" stroke-width="1.35" stroke-linejoin="round"/><polygon points="163.5,289.0 159.6,293.1 163.7,294.8 168.3,291.3" fill="#b0b0b0" stroke="none" stroke-width="0.00" stroke-linejoin="round"/><polyline points="162.2,290.2 159.6,293.1 163.7,294.8 167.4,292.2" fill="none" stroke="#000" stroke-width="1.22" stroke-linejoin="round"/><polygon points="179.7,326.6 289.4,217.4 289.6,207.3 180.0,315.6" fill="#e6e6e6" stroke="#000" stroke-width="1.35" stroke-linejoin="round"/><polygon points="167.8,309.7 180.0,315.6 289.6,207.3 278.5,201.9" fill="#e6e6e6" stroke="#000" stroke-width="1.35" stroke-linejoin="round"/><polyline points="184.5,308.6 277.1,217.4" fill="none" stroke="#000" stroke-width="0.76" stroke-linejoin="round"/><polygon points="179.4,303.7 183.3,305.6 230.0,259.6 226.3,257.8" fill="#ececec" stroke="#000" stroke-width="0.95" stroke-linejoin="round"/><polygon points="230.2,254.0 233.9,255.8 273.9,216.6 270.3,214.8" fill="#ececec" stroke="#000" stroke-width="0.95" stroke-linejoin="round"/><polygon points="279.9,182.3 294.0,184.8 297.0,195.4 292.3,200.0 279.9,196.9" fill="#ffffff" stroke="#000" stroke-width="1.35" stroke-linejoin="round"/><polyline points="280.7,185.8 293.2,187.8 295.2,194.9" fill="none" stroke="#b4b4b4" stroke-width="0.60" stroke-linejoin="round"/><polygon points="278.4,228.3 289.4,217.4 289.8,199.0 278.9,209.8" fill="#e6e6e6" stroke="#000" stroke-width="1.35" stroke-linejoin="round"/><polygon points="267.4,213.6 278.6,219.0 278.9,209.8 267.7,204.3" fill="#e6e6e6" stroke="#000" stroke-width="1.35" stroke-linejoin="round"/><polygon points="267.7,204.3 278.9,209.8 289.8,199.0 278.8,193.6" fill="#eeeeee" stroke="#000" stroke-width="1.35" stroke-linejoin="round"/><polygon points="282.1,195.3 277.1,200.1 281.6,202.3 286.5,197.4" fill="#ffffff" stroke="#000" stroke-width="0.95" stroke-linejoin="round"/><polygon points="167.5,320.7 179.7,326.6 186.0,320.4 186.4,301.0 180.2,307.1 168.1,301.2" fill="#e6e6e6" stroke="none" stroke-width="0.00" stroke-linejoin="round"/><polyline points="186.2,309.4 186.4,301.0 180.2,307.1 168.1,301.2 167.5,320.7 179.7,326.6 186.0,320.4" fill="none" stroke="#000" stroke-width="1.35" stroke-linejoin="round"/><polygon points="168.1,301.2 180.2,307.1 186.4,301.0 174.4,295.1" fill="#eeeeee" stroke="#000" stroke-width="1.35" stroke-linejoin="round"/><polygon points="178.8,297.3 174.9,301.4 179.1,303.2 183.6,299.6" fill="#fafafa" stroke="none" stroke-width="0.00" stroke-linejoin="round"/><polyline points="177.6,298.5 174.9,301.4 179.1,303.2 182.7,300.5" fill="none" stroke="#000" stroke-width="1.22" stroke-linejoin="round"/><polygon points="197.6,334.0 306.7,223.2 306.9,213.2 197.8,323.0" fill="#9c9c9c" stroke="#000" stroke-width="1.35" stroke-linejoin="round"/><polygon points="185.6,317.1 197.8,323.0 306.9,213.2 295.8,207.8" fill="#a2a2a2" stroke="#000" stroke-width="1.35" stroke-linejoin="round"/><polyline points="202.3,315.9 294.4,223.4" fill="none" stroke="#000" stroke-width="0.76" stroke-linejoin="round"/><polygon points="197.2,311.0 201.0,312.9 247.6,266.3 243.9,264.5" fill="#9a9a9a" stroke="#000" stroke-width="0.95" stroke-linejoin="round"/><polygon points="247.7,260.6 251.4,262.4 291.2,222.6 287.6,220.9" fill="#9a9a9a" stroke="#000" stroke-width="0.95" stroke-linejoin="round"/><polygon points="297.2,190.6 311.3,193.1 314.3,203.7 309.6,208.3 297.2,205.2" fill="#ffffff" stroke="#000" stroke-width="1.35" stroke-linejoin="round"/><polyline points="298.0,194.1 310.5,196.1 312.5,203.2" fill="none" stroke="#b4b4b4" stroke-width="0.60" stroke-linejoin="round"/><polygon points="295.8,234.3 306.7,223.2 307.0,204.9 296.1,215.8" fill="#9c9c9c" stroke="#000" stroke-width="1.35" stroke-linejoin="round"/><polygon points="284.7,219.6 296.0,225.1 296.1,215.8 284.9,210.4" fill="#9c9c9c" stroke="#000" stroke-width="1.35" stroke-linejoin="round"/><polygon points="284.9,210.4 296.1,215.8 307.0,204.9 295.9,199.5" fill="#a4a4a4" stroke="#000" stroke-width="1.35" stroke-linejoin="round"/><polygon points="299.3,201.1 294.3,206.0 298.8,208.2 303.7,203.3" fill="#ffffff" stroke="#000" stroke-width="0.95" stroke-linejoin="round"/><polygon points="185.4,328.1 197.6,334.0 203.8,327.7 204.1,308.3 197.9,314.5 185.8,308.6" fill="#9c9c9c" stroke="none" stroke-width="0.00" stroke-linejoin="round"/><polyline points="204.0,316.7 204.1,308.3 197.9,314.5 185.8,308.6 185.4,328.1 197.6,334.0 203.8,327.7" fill="none" stroke="#000" stroke-width="1.35" stroke-linejoin="round"/><polygon points="185.8,308.6 197.9,314.5 204.1,308.3 192.1,302.4" fill="#a4a4a4" stroke="#000" stroke-width="1.35" stroke-linejoin="round"/><polygon points="196.5,304.6 192.7,308.8 196.8,310.5 201.4,306.9" fill="#b0b0b0" stroke="none" stroke-width="0.00" stroke-linejoin="round"/><polyline points="195.3,305.8 192.7,308.8 196.8,310.5 200.4,307.9" fill="none" stroke="#000" stroke-width="1.22" stroke-linejoin="round"/><polygon points="210.7,339.8 319.4,227.9 319.5,217.8 210.8,328.8" fill="#e6e6e6" stroke="#000" stroke-width="1.35" stroke-linejoin="round"/><polygon points="198.3,322.2 210.8,328.8 319.5,217.8 308.0,211.8" fill="#e6e6e6" stroke="#000" stroke-width="1.35" stroke-linejoin="round"/><polyline points="215.3,321.6 307.0,228.1" fill="none" stroke="#000" stroke-width="0.76" stroke-linejoin="round"/><polygon points="209.9,316.2 213.9,318.3 260.2,271.2 256.4,269.2" fill="#ececec" stroke="#000" stroke-width="0.95" stroke-linejoin="round"/><polygon points="260.2,265.3 264.1,267.4 303.6,227.2 299.9,225.2" fill="#ececec" stroke="#000" stroke-width="0.95" stroke-linejoin="round"/><polygon points="309.5,196.6 323.6,199.1 326.6,209.7 321.9,214.3 309.5,211.2" fill="#ffffff" stroke="#000" stroke-width="1.35" stroke-linejoin="round"/><polyline points="310.3,200.1 322.8,202.1 324.8,209.2" fill="none" stroke="#b4b4b4" stroke-width="0.60" stroke-linejoin="round"/><polygon points="308.5,239.1 319.4,227.9 319.5,209.6 308.7,220.6" fill="#e6e6e6" stroke="#000" stroke-width="1.35" stroke-linejoin="round"/><polygon points="297.0,223.7 308.6,229.8 308.7,220.6 297.1,214.5" fill="#e6e6e6" stroke="#000" stroke-width="1.35" stroke-linejoin="round"/><polygon points="297.1,214.5 308.7,220.6 319.5,209.6 308.1,203.5" fill="#eeeeee" stroke="#000" stroke-width="1.35" stroke-linejoin="round"/><polygon points="311.5,205.3 306.6,210.3 311.2,212.7 316.1,207.8" fill="#ffffff" stroke="#000" stroke-width="0.95" stroke-linejoin="round"/><polygon points="198.1,333.2 210.7,339.8 216.9,333.4 217.1,314.0 210.9,320.3 198.4,313.7" fill="#e6e6e6" stroke="none" stroke-width="0.00" stroke-linejoin="round"/><polyline points="217.0,322.5 217.1,314.0 210.9,320.3 198.4,313.7 198.1,333.2 210.7,339.8 216.9,333.4" fill="none" stroke="#000" stroke-width="1.35" stroke-linejoin="round"/><polygon points="198.4,313.7 210.9,320.3 217.1,314.0 204.7,307.4" fill="#eeeeee" stroke="#000" stroke-width="1.35" stroke-linejoin="round"/><polygon points="209.3,309.9 205.4,314.1 209.7,316.1 214.2,312.5" fill="#fafafa" stroke="none" stroke-width="0.00" stroke-linejoin="round"/><polyline points="208.0,311.1 205.4,314.1 209.7,316.1 213.3,313.4" fill="none" stroke="#000" stroke-width="1.22" stroke-linejoin="round"/><polygon points="77.8,168.8 180.5,89.9 182.8,91.1 182.6,138.8 76.8,224.8" fill="#ffffff" stroke="#000" stroke-width="1.80" stroke-linejoin="round"/><polygon points="80.9,170.3 181.2,92.1 181.0,136.5 80.0,218.3" fill="none" stroke="#8c8c8c" stroke-width="0.70" stroke-linejoin="round"/><polyline points="79.0,169.0 78.1,222.9" fill="none" stroke="#c8c8c8" stroke-width="0.60" stroke-linejoin="round"/><polygon points="85.1,184.1 92.4,178.2 92.1,195.8 84.8,201.7" fill="#ffffff" stroke="#000" stroke-width="1.30" stroke-linejoin="round"/><polygon points="94.9,176.2 102.2,170.3 101.9,187.8 94.6,193.7" fill="#ffffff" stroke="#000" stroke-width="1.30" stroke-linejoin="round"/><polygon points="104.7,168.2 112.0,162.3 111.7,179.8 104.4,185.7" fill="#ffffff" stroke="#000" stroke-width="1.30" stroke-linejoin="round"/><polygon points="114.5,160.3 121.8,154.4 121.5,171.8 114.3,177.7" fill="#ffffff" stroke="#000" stroke-width="1.30" stroke-linejoin="round"/><polygon points="124.3,152.3 131.6,146.5 131.4,163.8 124.1,169.7" fill="#ffffff" stroke="#000" stroke-width="1.30" stroke-linejoin="round"/><polygon points="143.6,136.7 150.8,130.9 150.7,148.1 143.4,154.0" fill="#ffffff" stroke="#000" stroke-width="1.30" stroke-linejoin="round"/><polygon points="153.4,128.8 160.6,122.9 160.5,140.1 153.2,146.0" fill="#ffffff" stroke="#000" stroke-width="1.30" stroke-linejoin="round"/><polygon points="163.1,120.9 170.4,115.0 170.3,132.1 163.0,138.0" fill="#ffffff" stroke="#000" stroke-width="1.30" stroke-linejoin="round"/><polygon points="172.9,113.0 180.2,107.1 180.1,124.1 172.9,130.0" fill="#ffffff" stroke="#000" stroke-width="1.30" stroke-linejoin="round"/><polygon points="135.3,165.9 138.9,166.4 139.9,172.9 144.2,171.4 143.8,188.6 151.2,182.5 136.2,216.4 121.2,209.2 130.2,202.0 130.6,182.6 135.3,175.7" fill="#0a5fb0" stroke="#ffffff" stroke-width="2.00" stroke-linejoin="round"/><polygon points="135.3,165.9 138.9,166.4 139.9,172.9 144.2,171.4 143.8,188.6 151.2,182.5 136.2,216.4 121.2,209.2 130.2,202.0 130.6,182.6 135.3,175.7" fill="#0a5fb0" stroke="none" stroke-width="0.00" stroke-linejoin="round"/><polyline points="135.3,175.7 135.3,165.9 138.9,166.4 139.9,172.9" fill="none" stroke="#0d2a4d" stroke-width="1.10" stroke-linejoin="round"/><polygon points="92.8,173.0 196.2,93.3 198.5,94.5 198.3,142.2 91.8,229.0" fill="#ffffff" stroke="#000" stroke-width="1.80" stroke-linejoin="round"/><polygon points="95.9,174.5 196.9,95.5 196.7,139.9 95.1,222.5" fill="none" stroke="#8c8c8c" stroke-width="0.70" stroke-linejoin="round"/><polyline points="94.0,173.1 93.1,227.1" fill="none" stroke="#c8c8c8" stroke-width="0.60" stroke-linejoin="round"/><polygon points="100.2,188.3 107.5,182.3 107.2,199.9 99.9,205.9" fill="#ffffff" stroke="#000" stroke-width="1.30" stroke-linejoin="round"/><polygon points="110.0,180.2 117.3,174.3 117.1,191.8 109.7,197.8" fill="#ffffff" stroke="#000" stroke-width="1.30" stroke-linejoin="round"/><polygon points="119.9,172.2 127.2,166.3 127.0,183.7 119.6,189.7" fill="#ffffff" stroke="#000" stroke-width="1.30" stroke-linejoin="round"/><polygon points="129.7,164.2 137.1,158.3 136.8,175.6 129.5,181.6" fill="#ffffff" stroke="#000" stroke-width="1.30" stroke-linejoin="round"/><polygon points="139.6,156.2 146.9,150.3 146.7,167.6 139.4,173.6" fill="#ffffff" stroke="#000" stroke-width="1.30" stroke-linejoin="round"/><polygon points="159.0,140.4 166.3,134.5 166.2,151.7 158.8,157.7" fill="#ffffff" stroke="#000" stroke-width="1.30" stroke-linejoin="round"/><polygon points="168.9,132.4 176.2,126.5 176.1,143.7 168.7,149.6" fill="#ffffff" stroke="#000" stroke-width="1.30" stroke-linejoin="round"/><polygon points="178.7,124.5 186.0,118.5 185.9,135.6 178.6,141.6" fill="#ffffff" stroke="#000" stroke-width="1.30" stroke-linejoin="round"/><polygon points="188.6,116.5 195.9,110.5 195.8,127.5 188.5,133.5" fill="#ffffff" stroke="#000" stroke-width="1.30" stroke-linejoin="round"/><polygon points="150.3,170.1 153.9,170.6 154.9,177.1 159.2,175.6 158.8,192.8 166.2,186.7 151.2,220.6 136.2,213.4 145.2,206.2 145.6,186.8 150.3,179.9" fill="#0a5fb0" stroke="#ffffff" stroke-width="2.00" stroke-linejoin="round"/><polygon points="150.3,170.1 153.9,170.6 154.9,177.1 159.2,175.6 158.8,192.8 166.2,186.7 151.2,220.6 136.2,213.4 145.2,206.2 145.6,186.8 150.3,179.9" fill="#0a5fb0" stroke="none" stroke-width="0.00" stroke-linejoin="round"/><polyline points="150.3,179.9 150.3,170.1 153.9,170.6 154.9,177.1" fill="none" stroke="#0d2a4d" stroke-width="1.10" stroke-linejoin="round"/><polygon points="106.6,180.3 209.3,102.9 211.6,104.2 211.4,151.9 105.6,236.3" fill="#ffffff" stroke="#000" stroke-width="1.80" stroke-linejoin="round"/><polygon points="109.7,181.8 210.0,105.2 209.8,149.6 108.8,229.9" fill="none" stroke="#8c8c8c" stroke-width="0.70" stroke-linejoin="round"/><polyline points="107.8,180.5 106.9,234.4" fill="none" stroke="#c8c8c8" stroke-width="0.60" stroke-linejoin="round"/><polygon points="113.9,195.7 121.2,189.9 120.9,207.5 113.6,213.3" fill="#ffffff" stroke="#000" stroke-width="1.30" stroke-linejoin="round"/><polygon points="123.7,187.9 131.0,182.1 130.7,199.7 123.4,205.5" fill="#ffffff" stroke="#000" stroke-width="1.30" stroke-linejoin="round"/><polygon points="133.5,180.1 140.8,174.4 140.5,191.8 133.2,197.6" fill="#ffffff" stroke="#000" stroke-width="1.30" stroke-linejoin="round"/><polygon points="143.3,172.3 150.6,166.6 150.3,184.0 143.1,189.8" fill="#ffffff" stroke="#000" stroke-width="1.30" stroke-linejoin="round"/><polygon points="153.1,164.6 160.4,158.8 160.2,176.1 152.9,181.9" fill="#ffffff" stroke="#000" stroke-width="1.30" stroke-linejoin="round"/><polygon points="172.4,149.2 179.6,143.5 179.5,160.7 172.2,166.5" fill="#ffffff" stroke="#000" stroke-width="1.30" stroke-linejoin="round"/><polygon points="182.2,141.5 189.4,135.7 189.3,152.9 182.0,158.7" fill="#ffffff" stroke="#000" stroke-width="1.30" stroke-linejoin="round"/><polygon points="191.9,133.7 199.2,127.9 199.1,145.0 191.8,150.8" fill="#ffffff" stroke="#000" stroke-width="1.30" stroke-linejoin="round"/><polygon points="201.7,125.9 209.0,120.2 208.9,137.2 201.7,143.0" fill="#ffffff" stroke="#000" stroke-width="1.30" stroke-linejoin="round"/><polygon points="164.1,177.4 167.7,177.9 168.7,184.4 173.0,182.9 172.6,200.1 180.0,194.0 165.0,227.9 150.0,220.7 159.0,213.5 159.4,194.1 164.1,187.2" fill="#0a5fb0" stroke="#ffffff" stroke-width="2.00" stroke-linejoin="round"/><polygon points="164.1,177.4 167.7,177.9 168.7,184.4 173.0,182.9 172.6,200.1 180.0,194.0 165.0,227.9 150.0,220.7 159.0,213.5 159.4,194.1 164.1,187.2" fill="#0a5fb0" stroke="none" stroke-width="0.00" stroke-linejoin="round"/><polyline points="164.1,187.2 164.1,177.4 167.7,177.9 168.7,184.4" fill="none" stroke="#0d2a4d" stroke-width="1.10" stroke-linejoin="round"/><polygon points="122.7,189.1 225.7,110.6 228.0,111.8 227.8,159.5 121.7,245.1" fill="#ffffff" stroke="#000" stroke-width="1.80" stroke-linejoin="round"/><polygon points="125.8,190.6 226.4,112.8 226.2,157.2 125.0,238.6" fill="none" stroke="#8c8c8c" stroke-width="0.70" stroke-linejoin="round"/><polyline points="123.9,189.3 123.0,243.2" fill="none" stroke="#c8c8c8" stroke-width="0.60" stroke-linejoin="round"/><polygon points="130.0,204.4 137.3,198.6 137.0,216.1 129.7,222.0" fill="#ffffff" stroke="#000" stroke-width="1.30" stroke-linejoin="round"/><polygon points="139.9,196.5 147.1,190.7 146.9,208.2 139.6,214.1" fill="#ffffff" stroke="#000" stroke-width="1.30" stroke-linejoin="round"/><polygon points="149.7,188.6 157.0,182.8 156.7,200.2 149.4,206.1" fill="#ffffff" stroke="#000" stroke-width="1.30" stroke-linejoin="round"/><polygon points="159.5,180.7 166.8,174.9 166.6,192.3 159.3,198.2" fill="#ffffff" stroke="#000" stroke-width="1.30" stroke-linejoin="round"/><polygon points="169.3,172.8 176.6,167.0 176.4,184.3 169.1,190.2" fill="#ffffff" stroke="#000" stroke-width="1.30" stroke-linejoin="round"/><polygon points="188.7,157.3 195.9,151.4 195.8,168.7 188.5,174.5" fill="#ffffff" stroke="#000" stroke-width="1.30" stroke-linejoin="round"/><polygon points="198.5,149.4 205.8,143.6 205.6,160.7 198.3,166.6" fill="#ffffff" stroke="#000" stroke-width="1.30" stroke-linejoin="round"/><polygon points="208.3,141.5 215.6,135.7 215.5,152.8 208.2,158.7" fill="#ffffff" stroke="#000" stroke-width="1.30" stroke-linejoin="round"/><polygon points="218.1,133.7 225.4,127.8 225.3,144.8 218.0,150.7" fill="#ffffff" stroke="#000" stroke-width="1.30" stroke-linejoin="round"/><polygon points="180.2,186.2 183.8,186.7 184.8,193.2 189.1,191.7 188.7,208.9 196.1,202.8 181.1,236.7 166.1,229.5 175.1,222.3 175.5,202.9 180.2,196.0" fill="#0a5fb0" stroke="#ffffff" stroke-width="2.00" stroke-linejoin="round"/><polygon points="180.2,186.2 183.8,186.7 184.8,193.2 189.1,191.7 188.7,208.9 196.1,202.8 181.1,236.7 166.1,229.5 175.1,222.3 175.5,202.9 180.2,196.0" fill="#0a5fb0" stroke="none" stroke-width="0.00" stroke-linejoin="round"/><polyline points="180.2,196.0 180.2,186.2 183.8,186.7 184.8,193.2" fill="none" stroke="#0d2a4d" stroke-width="1.10" stroke-linejoin="round"/><polygon points="168.9,197.7 271.2,119.2 273.5,120.4 273.3,168.1 167.9,253.7" fill="#ffffff" stroke="#000" stroke-width="1.80" stroke-linejoin="round"/><polygon points="172.0,199.2 271.9,121.4 271.7,165.8 171.1,247.2" fill="none" stroke="#8c8c8c" stroke-width="0.70" stroke-linejoin="round"/><polyline points="170.1,197.9 169.2,251.8" fill="none" stroke="#c8c8c8" stroke-width="0.60" stroke-linejoin="round"/><polygon points="176.2,213.0 183.4,207.2 183.1,224.7 175.9,230.6" fill="#ffffff" stroke="#000" stroke-width="1.30" stroke-linejoin="round"/><polygon points="185.9,205.1 193.2,199.3 192.9,216.8 185.7,222.7" fill="#ffffff" stroke="#000" stroke-width="1.30" stroke-linejoin="round"/><polygon points="195.7,197.2 202.9,191.4 202.7,208.8 195.4,214.7" fill="#ffffff" stroke="#000" stroke-width="1.30" stroke-linejoin="round"/><polygon points="205.5,189.3 212.7,183.5 212.5,200.9 205.2,206.8" fill="#ffffff" stroke="#000" stroke-width="1.30" stroke-linejoin="round"/><polygon points="215.2,181.4 222.5,175.6 222.3,192.9 215.0,198.8" fill="#ffffff" stroke="#000" stroke-width="1.30" stroke-linejoin="round"/><polygon points="234.4,165.9 241.7,160.0 241.5,177.3 234.2,183.1" fill="#ffffff" stroke="#000" stroke-width="1.30" stroke-linejoin="round"/><polygon points="244.2,158.0 251.4,152.2 251.3,169.3 244.0,175.2" fill="#ffffff" stroke="#000" stroke-width="1.30" stroke-linejoin="round"/><polygon points="253.9,150.1 261.2,144.3 261.1,161.4 253.8,167.3" fill="#ffffff" stroke="#000" stroke-width="1.30" stroke-linejoin="round"/><polygon points="263.7,142.3 270.9,136.4 270.8,153.4 263.6,159.3" fill="#ffffff" stroke="#000" stroke-width="1.30" stroke-linejoin="round"/><polygon points="226.4,194.8 230.0,195.3 231.0,201.8 235.3,200.3 234.9,217.5 242.3,211.4 227.3,245.3 212.3,238.1 221.3,230.9 221.7,211.5 226.4,204.6" fill="#0a5fb0" stroke="#ffffff" stroke-width="2.00" stroke-linejoin="round"/><polygon points="226.4,194.8 230.0,195.3 231.0,201.8 235.3,200.3 234.9,217.5 242.3,211.4 227.3,245.3 212.3,238.1 221.3,230.9 221.7,211.5 226.4,204.6" fill="#0a5fb0" stroke="none" stroke-width="0.00" stroke-linejoin="round"/><polyline points="226.4,204.6 226.4,194.8 230.0,195.3 231.0,201.8" fill="none" stroke="#0d2a4d" stroke-width="1.10" stroke-linejoin="round"/><polygon points="181.6,203.4 284.5,125.2 286.8,126.4 286.6,174.1 180.6,259.4" fill="#ffffff" stroke="#000" stroke-width="1.80" stroke-linejoin="round"/><polygon points="184.7,204.9 285.2,127.4 285.0,171.8 183.8,252.9" fill="none" stroke="#8c8c8c" stroke-width="0.70" stroke-linejoin="round"/><polyline points="182.8,203.6 181.9,257.5" fill="none" stroke="#c8c8c8" stroke-width="0.60" stroke-linejoin="round"/><polygon points="188.9,218.8 196.2,212.9 195.9,230.5 188.6,236.4" fill="#ffffff" stroke="#000" stroke-width="1.30" stroke-linejoin="round"/><polygon points="198.7,210.9 206.0,205.0 205.8,222.5 198.5,228.4" fill="#ffffff" stroke="#000" stroke-width="1.30" stroke-linejoin="round"/><polygon points="208.6,203.0 215.8,197.2 215.6,214.6 208.3,220.5" fill="#ffffff" stroke="#000" stroke-width="1.30" stroke-linejoin="round"/><polygon points="218.4,195.1 225.6,189.3 225.4,206.7 218.1,212.6" fill="#ffffff" stroke="#000" stroke-width="1.30" stroke-linejoin="round"/><polygon points="228.2,187.3 235.5,181.4 235.3,198.8 228.0,204.6" fill="#ffffff" stroke="#000" stroke-width="1.30" stroke-linejoin="round"/><polygon points="247.5,171.8 254.8,166.0 254.6,183.2 247.3,189.0" fill="#ffffff" stroke="#000" stroke-width="1.30" stroke-linejoin="round"/><polygon points="257.3,163.9 264.6,158.1 264.5,175.2 257.2,181.1" fill="#ffffff" stroke="#000" stroke-width="1.30" stroke-linejoin="round"/><polygon points="267.1,156.1 274.4,150.3 274.3,167.3 267.0,173.2" fill="#ffffff" stroke="#000" stroke-width="1.30" stroke-linejoin="round"/><polygon points="276.9,148.2 284.2,142.4 284.1,159.4 276.8,165.3" fill="#ffffff" stroke="#000" stroke-width="1.30" stroke-linejoin="round"/><polygon points="239.1,200.5 242.7,201.0 243.7,207.5 248.0,206.0 247.6,223.2 255.0,217.1 240.0,251.0 225.0,243.8 234.0,236.6 234.4,217.2 239.1,210.3" fill="#0a5fb0" stroke="#ffffff" stroke-width="2.00" stroke-linejoin="round"/><polygon points="239.1,200.5 242.7,201.0 243.7,207.5 248.0,206.0 247.6,223.2 255.0,217.1 240.0,251.0 225.0,243.8 234.0,236.6 234.4,217.2 239.1,210.3" fill="#0a5fb0" stroke="none" stroke-width="0.00" stroke-linejoin="round"/><polyline points="239.1,210.3 239.1,200.5 242.7,201.0 243.7,207.5" fill="none" stroke="#0d2a4d" stroke-width="1.10" stroke-linejoin="round"/><polygon points="195.4,210.3 298.2,132.5 300.5,133.8 300.3,181.5 194.4,266.3" fill="#ffffff" stroke="#000" stroke-width="1.80" stroke-linejoin="round"/><polygon points="198.5,211.8 298.9,134.8 298.7,179.2 197.6,259.8" fill="none" stroke="#8c8c8c" stroke-width="0.70" stroke-linejoin="round"/><polyline points="196.6,210.5 195.7,264.4" fill="none" stroke="#c8c8c8" stroke-width="0.60" stroke-linejoin="round"/><polygon points="202.7,225.7 210.0,219.9 209.7,237.4 202.4,243.3" fill="#ffffff" stroke="#000" stroke-width="1.30" stroke-linejoin="round"/><polygon points="212.5,217.9 219.8,212.1 219.5,229.6 212.2,235.4" fill="#ffffff" stroke="#000" stroke-width="1.30" stroke-linejoin="round"/><polygon points="222.3,210.0 229.6,204.2 229.4,221.7 222.1,227.5" fill="#ffffff" stroke="#000" stroke-width="1.30" stroke-linejoin="round"/><polygon points="232.1,202.2 239.4,196.4 239.2,213.8 231.9,219.6" fill="#ffffff" stroke="#000" stroke-width="1.30" stroke-linejoin="round"/><polygon points="241.9,194.4 249.2,188.6 249.0,205.9 241.7,211.8" fill="#ffffff" stroke="#000" stroke-width="1.30" stroke-linejoin="round"/><polygon points="261.2,179.0 268.5,173.2 268.4,190.4 261.1,196.3" fill="#ffffff" stroke="#000" stroke-width="1.30" stroke-linejoin="round"/><polygon points="271.0,171.2 278.3,165.4 278.2,182.5 270.9,188.4" fill="#ffffff" stroke="#000" stroke-width="1.30" stroke-linejoin="round"/><polygon points="280.8,163.4 288.1,157.6 288.0,174.7 280.7,180.5" fill="#ffffff" stroke="#000" stroke-width="1.30" stroke-linejoin="round"/><polygon points="290.6,155.6 297.9,149.8 297.8,166.8 290.5,172.6" fill="#ffffff" stroke="#000" stroke-width="1.30" stroke-linejoin="round"/><polygon points="252.9,207.4 256.5,207.9 257.5,214.4 261.8,212.9 261.4,230.1 268.8,224.0 253.8,257.9 238.8,250.7 247.8,243.5 248.2,224.1 252.9,217.2" fill="#0a5fb0" stroke="#ffffff" stroke-width="2.00" stroke-linejoin="round"/><polygon points="252.9,207.4 256.5,207.9 257.5,214.4 261.8,212.9 261.4,230.1 268.8,224.0 253.8,257.9 238.8,250.7 247.8,243.5 248.2,224.1 252.9,217.2" fill="#0a5fb0" stroke="none" stroke-width="0.00" stroke-linejoin="round"/><polyline points="252.9,217.2 252.9,207.4 256.5,207.9 257.5,214.4" fill="none" stroke="#0d2a4d" stroke-width="1.10" stroke-linejoin="round"/><polygon points="212.3,218.4 315.0,139.9 317.3,141.1 317.1,188.8 211.3,274.4" fill="#ffffff" stroke="#000" stroke-width="1.80" stroke-linejoin="round"/><polygon points="215.4,219.9 315.7,142.1 315.5,186.5 214.5,267.9" fill="none" stroke="#8c8c8c" stroke-width="0.70" stroke-linejoin="round"/><polyline points="213.5,218.6 212.6,272.5" fill="none" stroke="#c8c8c8" stroke-width="0.60" stroke-linejoin="round"/><polygon points="219.6,233.7 226.9,227.9 226.6,245.4 219.3,251.3" fill="#ffffff" stroke="#000" stroke-width="1.30" stroke-linejoin="round"/><polygon points="229.4,225.8 236.7,220.0 236.4,237.5 229.1,243.4" fill="#ffffff" stroke="#000" stroke-width="1.30" stroke-linejoin="round"/><polygon points="239.2,217.9 246.5,212.1 246.2,229.5 238.9,235.4" fill="#ffffff" stroke="#000" stroke-width="1.30" stroke-linejoin="round"/><polygon points="249.0,210.0 256.3,204.2 256.0,221.6 248.8,227.5" fill="#ffffff" stroke="#000" stroke-width="1.30" stroke-linejoin="round"/><polygon points="258.8,202.1 266.1,196.3 265.9,213.6 258.6,219.5" fill="#ffffff" stroke="#000" stroke-width="1.30" stroke-linejoin="round"/><polygon points="278.1,186.6 285.3,180.7 285.2,198.0 277.9,203.8" fill="#ffffff" stroke="#000" stroke-width="1.30" stroke-linejoin="round"/><polygon points="287.9,178.7 295.1,172.9 295.0,190.0 287.7,195.9" fill="#ffffff" stroke="#000" stroke-width="1.30" stroke-linejoin="round"/><polygon points="297.6,170.8 304.9,165.0 304.8,182.1 297.5,188.0" fill="#ffffff" stroke="#000" stroke-width="1.30" stroke-linejoin="round"/><polygon points="307.4,163.0 314.7,157.1 314.6,174.1 307.4,180.0" fill="#ffffff" stroke="#000" stroke-width="1.30" stroke-linejoin="round"/><polygon points="269.8,215.5 273.4,216.0 274.4,222.5 278.7,221.0 278.3,238.2 285.7,232.1 270.7,266.0 255.7,258.8 264.7,251.6 265.1,232.2 269.8,225.3" fill="#0a5fb0" stroke="#ffffff" stroke-width="2.00" stroke-linejoin="round"/><polygon points="269.8,215.5 273.4,216.0 274.4,222.5 278.7,221.0 278.3,238.2 285.7,232.1 270.7,266.0 255.7,258.8 264.7,251.6 265.1,232.2 269.8,225.3" fill="#0a5fb0" stroke="none" stroke-width="0.00" stroke-linejoin="round"/><polyline points="269.8,225.3 269.8,215.5 273.4,216.0 274.4,222.5" fill="none" stroke="#0d2a4d" stroke-width="1.10" stroke-linejoin="round"/></g><g font-family="Liberation Sans, sans-serif" font-size="10.5" fill="#141414"><text x="103.8" y="333.0">DIMM_D1</text><polyline points="153.1,329.2 175.3,329.2 175.3,320.5" fill="none" stroke="#000" stroke-width="1.1"/><text x="334.6" y="304.3">DIMM_B1</text><polyline points="383.9,300.9 405.8,300.9 405.8,293.1" fill="none" stroke="#000" stroke-width="1.1"/><text x="334.6" y="332.7">DIMM_D1</text><polyline points="383.9,329.4 468.3,329.4 468.3,321.0" fill="none" stroke="#000" stroke-width="1.1"/><text x="637.4" y="279.5">DIMM_A1</text><polyline points="686.7,275.6 699.0,275.6" fill="none" stroke="#000" stroke-width="1.1"/><text x="637.4" y="304.5">DIMM_B1</text><polyline points="686.7,301.0 736.9,301.0 736.9,294.1" fill="none" stroke="#000" stroke-width="1.1"/><text x="637.4" y="332.7">DIMM_D1</text><polyline points="686.7,329.2 798.7,329.2 798.7,320.4" fill="none" stroke="#000" stroke-width="1.1"/><text x="637.4" y="354.2">DIMM_C1</text><polyline points="686.7,349.3 831.2,349.3 831.2,340.0" fill="none" stroke="#000" stroke-width="1.1"/><text x="163.8" y="571.0">DIMM_A1</text><polyline points="213.1,567.7 223.2,567.7" fill="none" stroke="#000" stroke-width="1.1"/><text x="163.8" y="596.0">DIMM_B1</text><polyline points="213.1,592.4 263.2,592.4 263.2,584.2" fill="none" stroke="#000" stroke-width="1.1"/><text x="163.8" y="610.0">DIMM_B2</text><polyline points="213.1,606.1 281.4,606.1 281.4,593.0" fill="none" stroke="#000" stroke-width="1.1"/><text x="163.8" y="622.3">DIMM_D2</text><polyline points="213.1,619.0 310.4,619.0 310.4,600.8" fill="none" stroke="#000" stroke-width="1.1"/><text x="163.8" y="634.4">DIMM_D1</text><polyline points="213.1,631.0 325.0,631.0 325.0,612.5" fill="none" stroke="#000" stroke-width="1.1"/><text x="163.8" y="645.0">DIMM_C1</text><polyline points="213.1,640.8 357.8,640.8 357.8,632.0" fill="none" stroke="#000" stroke-width="1.1"/><text x="512.4" y="571.0">DIMM_A1</text><polyline points="561.7,567.3 574.2,567.3" fill="none" stroke="#000" stroke-width="1.1"/><text x="512.4" y="583.7">DIMM_A2</text><polyline points="561.7,580.0 596.6,580.0 596.6,578.0" fill="none" stroke="#000" stroke-width="1.1"/><text x="512.4" y="595.8">DIMM_B1</text><polyline points="561.7,592.0 611.3,592.0 611.3,584.2" fill="none" stroke="#000" stroke-width="1.1"/><text x="512.4" y="609.6">DIMM_B2</text><polyline points="561.7,606.1 629.8,606.1 629.8,593.0" fill="none" stroke="#000" stroke-width="1.1"/><text x="512.4" y="622.3">DIMM_D2</text><polyline points="561.7,619.0 659.0,619.0 659.0,606.7" fill="none" stroke="#000" stroke-width="1.1"/><text x="512.4" y="634.4">DIMM_D1</text><polyline points="561.7,631.0 673.7,631.0 673.7,616.4" fill="none" stroke="#000" stroke-width="1.1"/><text x="512.4" y="645.7">DIMM_C2</text><polyline points="561.7,641.8 693.2,641.8 693.2,623.2" fill="none" stroke="#000" stroke-width="1.1"/><text x="512.4" y="657.8">DIMM_C1</text><polyline points="561.7,654.0 706.2,654.0 706.2,631.0" fill="none" stroke="#000" stroke-width="1.1"/></g><path d="M312.7,327.6 L313.4,333.6 L320.0,340.3 L333.4,348.6 L350.1,353.6 L383.6,357.6 L417.0,358.6 L450.4,357.6 L470.0,357.6 L488.1,352.8 L503.8,346.7 L518.3,341.3 L535.2,334.1 L548.5,328.6 L556.9,323.8 L566.6,317.2 L578.6,305.7 L584.7,300.3 L595.5,290.0 L604.4,278.7 L612.5,266.6 L618.5,260.5 L624.6,254.5 L632.7,242.4 L639.7,230.3 L644.8,220.2 L648.8,210.1 L651.8,200.0 L652.9,188.5 L650.4,175.9 L644.0,160.8 L634.0,143.1 L625.1,129.2 L616.3,119.1 L606.2,110.3 L593.6,102.7 L578.5,97.7 L558.3,93.9 L533.1,90.6 L517.9,88.1 L512.9,86.4 L495.2,84.6 L480.0,83.8 L461.3,83.1 L441.2,83.8 L426.0,86.3 L418.5,91.4 L408.4,98.9 L399.6,107.8 L390.7,122.9 L384.4,134.2 L375.6,150.6 L365.5,170.8 L356.7,191.0 L350.4,206.1 L340.3,231.3 L335.1,240.0 L330.1,253.4 L323.4,270.1 L320.2,280.0 L316.1,288.0 L315.1,295.1 L310.1,314.3 L307.6,318.3 L305.5,327.4 L306.6,335.5" fill="none" stroke="#ff0000" stroke-width="2.0" stroke-linejoin="round" stroke-linecap="round"/></svg>
</body></html>
